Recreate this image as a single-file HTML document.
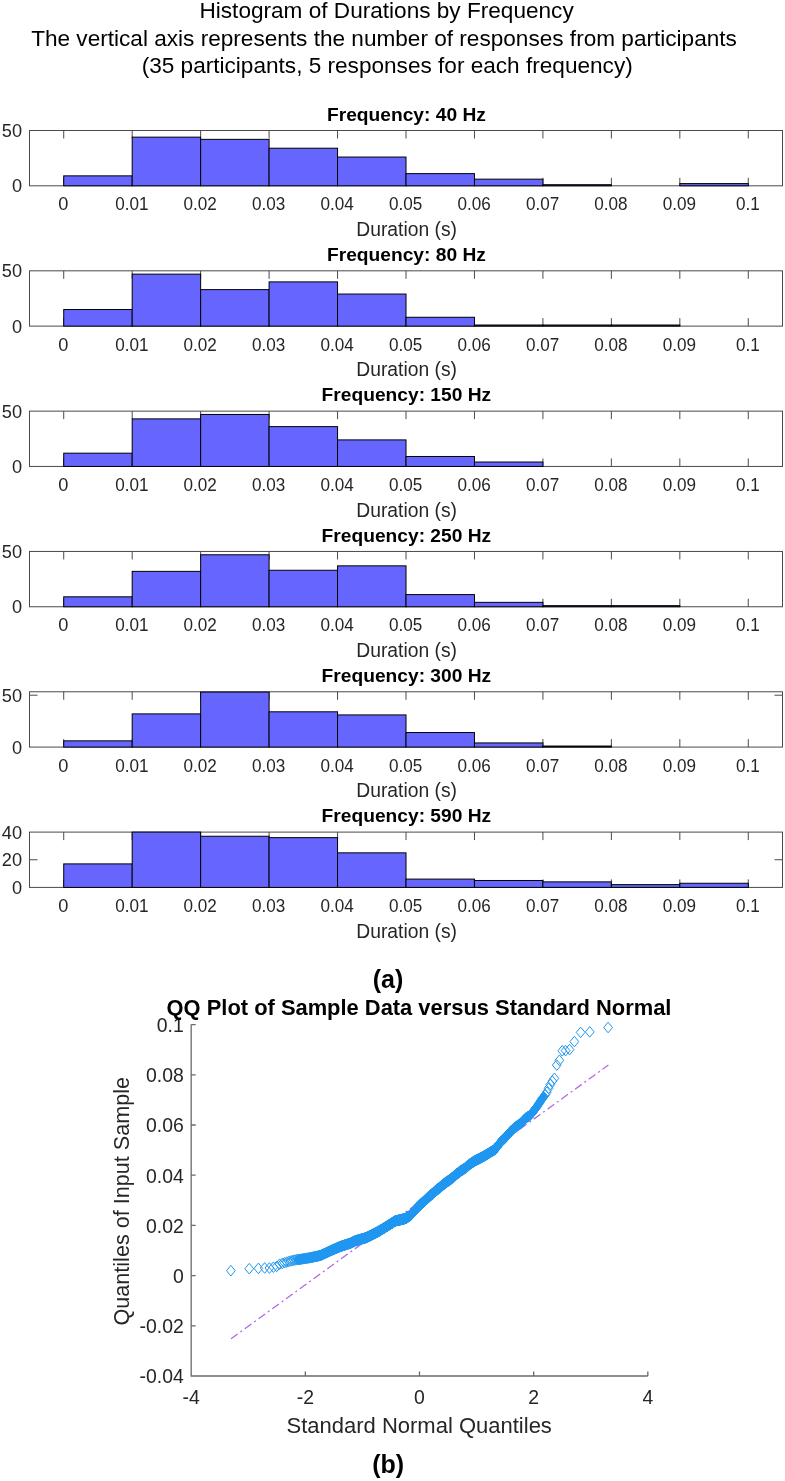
<!DOCTYPE html>
<html><head><meta charset="utf-8"><title>Histogram of Durations by Frequency</title>
<style>
html,body{margin:0;padding:0;background:#fff;}
body{width:785px;height:1481px;overflow:hidden;}
svg{display:block;font-family:"Liberation Sans", sans-serif;will-change:transform;}
</style></head><body>
<svg width="785" height="1481" viewBox="0 0 785 1481">
<rect width="785" height="1481" fill="#fff"/>
<text x="386.6" y="17.9" font-size="22.6" font-weight="400" text-anchor="middle" fill="#000">Histogram of Durations by Frequency</text>
<text x="384" y="45.6" font-size="22.6" font-weight="400" text-anchor="middle" fill="#000">The vertical axis represents the number of responses from participants</text>
<text x="387.2" y="73.3" font-size="22.6" font-weight="400" text-anchor="middle" fill="#000">(35 participants, 5 responses for each frequency)</text>
<g>
<path d="M63.73 185.8V177.8M63.73 130.5V138.5M132.19 185.8V177.8M132.19 130.5V138.5M200.64 185.8V177.8M200.64 130.5V138.5M269.09 185.8V177.8M269.09 130.5V138.5M337.55 185.8V177.8M337.55 130.5V138.5M406.01 185.8V177.8M406.01 130.5V138.5M474.46 185.8V177.8M474.46 130.5V138.5M542.92 185.8V177.8M542.92 130.5V138.5M611.37 185.8V177.8M611.37 130.5V138.5M679.83 185.8V177.8M679.83 130.5V138.5M748.28 185.8V177.8M748.28 130.5V138.5" stroke="#4a4a4a" stroke-width="1" fill="none"/>
<rect x="29.5" y="130.5" width="753" height="55.3" fill="none" stroke="#4a4a4a" stroke-width="1"/>
<g fill="#6666ff" stroke="#000" stroke-width="1"><rect x="63.73" y="175.85" width="68.46" height="9.95"/><rect x="132.19" y="137.14" width="68.45" height="48.66"/><rect x="200.64" y="139.35" width="68.45" height="46.45"/><rect x="269.09" y="148.2" width="68.46" height="37.6"/><rect x="337.55" y="157.04" width="68.46" height="28.76"/><rect x="406.01" y="173.63" width="68.45" height="12.17"/><rect x="474.46" y="179.16" width="68.46" height="6.64"/><rect x="542.92" y="184.69" width="68.45" height="1.11"/><rect x="679.83" y="183.59" width="68.46" height="2.21"/></g>
<text x="63.33" y="210.4" font-size="18.2" font-weight="400" text-anchor="middle" fill="#262626">0</text>
<text x="131.78" y="210.4" font-size="18.2" font-weight="400" text-anchor="middle" fill="#262626" textLength="33.29" lengthAdjust="spacingAndGlyphs">0.01</text>
<text x="200.24" y="210.4" font-size="18.2" font-weight="400" text-anchor="middle" fill="#262626" textLength="33.29" lengthAdjust="spacingAndGlyphs">0.02</text>
<text x="268.69" y="210.4" font-size="18.2" font-weight="400" text-anchor="middle" fill="#262626" textLength="33.29" lengthAdjust="spacingAndGlyphs">0.03</text>
<text x="337.15" y="210.4" font-size="18.2" font-weight="400" text-anchor="middle" fill="#262626" textLength="33.29" lengthAdjust="spacingAndGlyphs">0.04</text>
<text x="405.61" y="210.4" font-size="18.2" font-weight="400" text-anchor="middle" fill="#262626" textLength="33.29" lengthAdjust="spacingAndGlyphs">0.05</text>
<text x="474.06" y="210.4" font-size="18.2" font-weight="400" text-anchor="middle" fill="#262626" textLength="33.29" lengthAdjust="spacingAndGlyphs">0.06</text>
<text x="542.52" y="210.4" font-size="18.2" font-weight="400" text-anchor="middle" fill="#262626" textLength="33.29" lengthAdjust="spacingAndGlyphs">0.07</text>
<text x="610.97" y="210.4" font-size="18.2" font-weight="400" text-anchor="middle" fill="#262626" textLength="33.29" lengthAdjust="spacingAndGlyphs">0.08</text>
<text x="679.43" y="210.4" font-size="18.2" font-weight="400" text-anchor="middle" fill="#262626" textLength="33.29" lengthAdjust="spacingAndGlyphs">0.09</text>
<text x="747.88" y="210.4" font-size="18.2" font-weight="400" text-anchor="middle" fill="#262626" textLength="23.78" lengthAdjust="spacingAndGlyphs">0.1</text>
<text x="22" y="192.3" font-size="18.2" font-weight="400" text-anchor="end" fill="#262626">0</text>
<text x="22" y="137" font-size="18.2" font-weight="400" text-anchor="end" fill="#262626">50</text>
<text x="406.6" y="236.1" font-size="19.3" font-weight="400" text-anchor="middle" fill="#262626">Duration (s)</text>
<text x="406.4" y="120.7" font-size="19.2" font-weight="700" text-anchor="middle" fill="#000">Frequency: 40 Hz</text>
</g>
<g>
<path d="M63.73 326.12V318.12M63.73 270.82V278.82M132.19 326.12V318.12M132.19 270.82V278.82M200.64 326.12V318.12M200.64 270.82V278.82M269.09 326.12V318.12M269.09 270.82V278.82M337.55 326.12V318.12M337.55 270.82V278.82M406.01 326.12V318.12M406.01 270.82V278.82M474.46 326.12V318.12M474.46 270.82V278.82M542.92 326.12V318.12M542.92 270.82V278.82M611.37 326.12V318.12M611.37 270.82V278.82M679.83 326.12V318.12M679.83 270.82V278.82M748.28 326.12V318.12M748.28 270.82V278.82" stroke="#4a4a4a" stroke-width="1" fill="none"/>
<rect x="29.5" y="270.82" width="753" height="55.3" fill="none" stroke="#4a4a4a" stroke-width="1"/>
<g fill="#6666ff" stroke="#000" stroke-width="1"><rect x="63.73" y="309.53" width="68.46" height="16.59"/><rect x="132.19" y="274.14" width="68.45" height="51.98"/><rect x="200.64" y="289.62" width="68.45" height="36.5"/><rect x="269.09" y="281.88" width="68.46" height="44.24"/><rect x="337.55" y="294.05" width="68.46" height="32.07"/><rect x="406.01" y="317.27" width="68.45" height="8.85"/><rect x="474.46" y="325.01" width="68.46" height="1.11"/><rect x="542.92" y="325.01" width="68.45" height="1.11"/><rect x="611.37" y="325.01" width="68.46" height="1.11"/></g>
<text x="63.33" y="350.72" font-size="18.2" font-weight="400" text-anchor="middle" fill="#262626">0</text>
<text x="131.78" y="350.72" font-size="18.2" font-weight="400" text-anchor="middle" fill="#262626" textLength="33.29" lengthAdjust="spacingAndGlyphs">0.01</text>
<text x="200.24" y="350.72" font-size="18.2" font-weight="400" text-anchor="middle" fill="#262626" textLength="33.29" lengthAdjust="spacingAndGlyphs">0.02</text>
<text x="268.69" y="350.72" font-size="18.2" font-weight="400" text-anchor="middle" fill="#262626" textLength="33.29" lengthAdjust="spacingAndGlyphs">0.03</text>
<text x="337.15" y="350.72" font-size="18.2" font-weight="400" text-anchor="middle" fill="#262626" textLength="33.29" lengthAdjust="spacingAndGlyphs">0.04</text>
<text x="405.61" y="350.72" font-size="18.2" font-weight="400" text-anchor="middle" fill="#262626" textLength="33.29" lengthAdjust="spacingAndGlyphs">0.05</text>
<text x="474.06" y="350.72" font-size="18.2" font-weight="400" text-anchor="middle" fill="#262626" textLength="33.29" lengthAdjust="spacingAndGlyphs">0.06</text>
<text x="542.52" y="350.72" font-size="18.2" font-weight="400" text-anchor="middle" fill="#262626" textLength="33.29" lengthAdjust="spacingAndGlyphs">0.07</text>
<text x="610.97" y="350.72" font-size="18.2" font-weight="400" text-anchor="middle" fill="#262626" textLength="33.29" lengthAdjust="spacingAndGlyphs">0.08</text>
<text x="679.43" y="350.72" font-size="18.2" font-weight="400" text-anchor="middle" fill="#262626" textLength="33.29" lengthAdjust="spacingAndGlyphs">0.09</text>
<text x="747.88" y="350.72" font-size="18.2" font-weight="400" text-anchor="middle" fill="#262626" textLength="23.78" lengthAdjust="spacingAndGlyphs">0.1</text>
<text x="22" y="332.62" font-size="18.2" font-weight="400" text-anchor="end" fill="#262626">0</text>
<text x="22" y="277.32" font-size="18.2" font-weight="400" text-anchor="end" fill="#262626">50</text>
<text x="406.6" y="376.42" font-size="19.3" font-weight="400" text-anchor="middle" fill="#262626">Duration (s)</text>
<text x="406.4" y="261.02" font-size="19.2" font-weight="700" text-anchor="middle" fill="#000">Frequency: 80 Hz</text>
</g>
<g>
<path d="M63.73 466.44V458.44M63.73 411.14V419.14M132.19 466.44V458.44M132.19 411.14V419.14M200.64 466.44V458.44M200.64 411.14V419.14M269.09 466.44V458.44M269.09 411.14V419.14M337.55 466.44V458.44M337.55 411.14V419.14M406.01 466.44V458.44M406.01 411.14V419.14M474.46 466.44V458.44M474.46 411.14V419.14M542.92 466.44V458.44M542.92 411.14V419.14M611.37 466.44V458.44M611.37 411.14V419.14M679.83 466.44V458.44M679.83 411.14V419.14M748.28 466.44V458.44M748.28 411.14V419.14" stroke="#4a4a4a" stroke-width="1" fill="none"/>
<rect x="29.5" y="411.14" width="753" height="55.3" fill="none" stroke="#4a4a4a" stroke-width="1"/>
<g fill="#6666ff" stroke="#000" stroke-width="1"><rect x="63.73" y="453.17" width="68.46" height="13.27"/><rect x="132.19" y="418.88" width="68.45" height="47.56"/><rect x="200.64" y="414.46" width="68.45" height="51.98"/><rect x="269.09" y="426.62" width="68.46" height="39.82"/><rect x="337.55" y="439.9" width="68.46" height="26.54"/><rect x="406.01" y="456.49" width="68.45" height="9.95"/><rect x="474.46" y="462.02" width="68.46" height="4.42"/></g>
<text x="63.33" y="491.04" font-size="18.2" font-weight="400" text-anchor="middle" fill="#262626">0</text>
<text x="131.78" y="491.04" font-size="18.2" font-weight="400" text-anchor="middle" fill="#262626" textLength="33.29" lengthAdjust="spacingAndGlyphs">0.01</text>
<text x="200.24" y="491.04" font-size="18.2" font-weight="400" text-anchor="middle" fill="#262626" textLength="33.29" lengthAdjust="spacingAndGlyphs">0.02</text>
<text x="268.69" y="491.04" font-size="18.2" font-weight="400" text-anchor="middle" fill="#262626" textLength="33.29" lengthAdjust="spacingAndGlyphs">0.03</text>
<text x="337.15" y="491.04" font-size="18.2" font-weight="400" text-anchor="middle" fill="#262626" textLength="33.29" lengthAdjust="spacingAndGlyphs">0.04</text>
<text x="405.61" y="491.04" font-size="18.2" font-weight="400" text-anchor="middle" fill="#262626" textLength="33.29" lengthAdjust="spacingAndGlyphs">0.05</text>
<text x="474.06" y="491.04" font-size="18.2" font-weight="400" text-anchor="middle" fill="#262626" textLength="33.29" lengthAdjust="spacingAndGlyphs">0.06</text>
<text x="542.52" y="491.04" font-size="18.2" font-weight="400" text-anchor="middle" fill="#262626" textLength="33.29" lengthAdjust="spacingAndGlyphs">0.07</text>
<text x="610.97" y="491.04" font-size="18.2" font-weight="400" text-anchor="middle" fill="#262626" textLength="33.29" lengthAdjust="spacingAndGlyphs">0.08</text>
<text x="679.43" y="491.04" font-size="18.2" font-weight="400" text-anchor="middle" fill="#262626" textLength="33.29" lengthAdjust="spacingAndGlyphs">0.09</text>
<text x="747.88" y="491.04" font-size="18.2" font-weight="400" text-anchor="middle" fill="#262626" textLength="23.78" lengthAdjust="spacingAndGlyphs">0.1</text>
<text x="22" y="472.94" font-size="18.2" font-weight="400" text-anchor="end" fill="#262626">0</text>
<text x="22" y="417.64" font-size="18.2" font-weight="400" text-anchor="end" fill="#262626">50</text>
<text x="406.6" y="516.74" font-size="19.3" font-weight="400" text-anchor="middle" fill="#262626">Duration (s)</text>
<text x="406.4" y="401.34" font-size="19.2" font-weight="700" text-anchor="middle" fill="#000">Frequency: 150 Hz</text>
</g>
<g>
<path d="M63.73 606.76V598.76M63.73 551.46V559.46M132.19 606.76V598.76M132.19 551.46V559.46M200.64 606.76V598.76M200.64 551.46V559.46M269.09 606.76V598.76M269.09 551.46V559.46M337.55 606.76V598.76M337.55 551.46V559.46M406.01 606.76V598.76M406.01 551.46V559.46M474.46 606.76V598.76M474.46 551.46V559.46M542.92 606.76V598.76M542.92 551.46V559.46M611.37 606.76V598.76M611.37 551.46V559.46M679.83 606.76V598.76M679.83 551.46V559.46M748.28 606.76V598.76M748.28 551.46V559.46" stroke="#4a4a4a" stroke-width="1" fill="none"/>
<rect x="29.5" y="551.46" width="753" height="55.3" fill="none" stroke="#4a4a4a" stroke-width="1"/>
<g fill="#6666ff" stroke="#000" stroke-width="1"><rect x="63.73" y="596.81" width="68.46" height="9.95"/><rect x="132.19" y="571.37" width="68.45" height="35.39"/><rect x="200.64" y="554.78" width="68.45" height="51.98"/><rect x="269.09" y="570.26" width="68.46" height="36.5"/><rect x="337.55" y="565.84" width="68.46" height="40.92"/><rect x="406.01" y="594.59" width="68.45" height="12.17"/><rect x="474.46" y="602.34" width="68.46" height="4.42"/><rect x="542.92" y="605.65" width="68.45" height="1.11"/><rect x="611.37" y="605.65" width="68.46" height="1.11"/></g>
<text x="63.33" y="631.36" font-size="18.2" font-weight="400" text-anchor="middle" fill="#262626">0</text>
<text x="131.78" y="631.36" font-size="18.2" font-weight="400" text-anchor="middle" fill="#262626" textLength="33.29" lengthAdjust="spacingAndGlyphs">0.01</text>
<text x="200.24" y="631.36" font-size="18.2" font-weight="400" text-anchor="middle" fill="#262626" textLength="33.29" lengthAdjust="spacingAndGlyphs">0.02</text>
<text x="268.69" y="631.36" font-size="18.2" font-weight="400" text-anchor="middle" fill="#262626" textLength="33.29" lengthAdjust="spacingAndGlyphs">0.03</text>
<text x="337.15" y="631.36" font-size="18.2" font-weight="400" text-anchor="middle" fill="#262626" textLength="33.29" lengthAdjust="spacingAndGlyphs">0.04</text>
<text x="405.61" y="631.36" font-size="18.2" font-weight="400" text-anchor="middle" fill="#262626" textLength="33.29" lengthAdjust="spacingAndGlyphs">0.05</text>
<text x="474.06" y="631.36" font-size="18.2" font-weight="400" text-anchor="middle" fill="#262626" textLength="33.29" lengthAdjust="spacingAndGlyphs">0.06</text>
<text x="542.52" y="631.36" font-size="18.2" font-weight="400" text-anchor="middle" fill="#262626" textLength="33.29" lengthAdjust="spacingAndGlyphs">0.07</text>
<text x="610.97" y="631.36" font-size="18.2" font-weight="400" text-anchor="middle" fill="#262626" textLength="33.29" lengthAdjust="spacingAndGlyphs">0.08</text>
<text x="679.43" y="631.36" font-size="18.2" font-weight="400" text-anchor="middle" fill="#262626" textLength="33.29" lengthAdjust="spacingAndGlyphs">0.09</text>
<text x="747.88" y="631.36" font-size="18.2" font-weight="400" text-anchor="middle" fill="#262626" textLength="23.78" lengthAdjust="spacingAndGlyphs">0.1</text>
<text x="22" y="613.26" font-size="18.2" font-weight="400" text-anchor="end" fill="#262626">0</text>
<text x="22" y="557.96" font-size="18.2" font-weight="400" text-anchor="end" fill="#262626">50</text>
<text x="406.6" y="657.06" font-size="19.3" font-weight="400" text-anchor="middle" fill="#262626">Duration (s)</text>
<text x="406.4" y="541.66" font-size="19.2" font-weight="700" text-anchor="middle" fill="#000">Frequency: 250 Hz</text>
</g>
<g>
<path d="M63.73 747.08V739.08M63.73 691.78V699.78M132.19 747.08V739.08M132.19 691.78V699.78M200.64 747.08V739.08M200.64 691.78V699.78M269.09 747.08V739.08M269.09 691.78V699.78M337.55 747.08V739.08M337.55 691.78V699.78M406.01 747.08V739.08M406.01 691.78V699.78M474.46 747.08V739.08M474.46 691.78V699.78M542.92 747.08V739.08M542.92 691.78V699.78M611.37 747.08V739.08M611.37 691.78V699.78M679.83 747.08V739.08M679.83 691.78V699.78M748.28 747.08V739.08M748.28 691.78V699.78M29.5 695.2H37.5M782.51 695.2H774.51" stroke="#4a4a4a" stroke-width="1" fill="none"/>
<rect x="29.5" y="691.78" width="753" height="55.3" fill="none" stroke="#4a4a4a" stroke-width="1"/>
<g fill="#6666ff" stroke="#000" stroke-width="1"><rect x="63.73" y="740.85" width="68.46" height="6.23"/><rect x="132.19" y="713.88" width="68.45" height="33.2"/><rect x="200.64" y="692.09" width="68.45" height="54.99"/><rect x="269.09" y="711.8" width="68.46" height="35.28"/><rect x="337.55" y="714.92" width="68.46" height="32.16"/><rect x="406.01" y="732.55" width="68.45" height="14.53"/><rect x="474.46" y="742.93" width="68.46" height="4.15"/><rect x="542.92" y="746.04" width="68.45" height="1.04"/></g>
<text x="63.33" y="771.68" font-size="18.2" font-weight="400" text-anchor="middle" fill="#262626">0</text>
<text x="131.78" y="771.68" font-size="18.2" font-weight="400" text-anchor="middle" fill="#262626" textLength="33.29" lengthAdjust="spacingAndGlyphs">0.01</text>
<text x="200.24" y="771.68" font-size="18.2" font-weight="400" text-anchor="middle" fill="#262626" textLength="33.29" lengthAdjust="spacingAndGlyphs">0.02</text>
<text x="268.69" y="771.68" font-size="18.2" font-weight="400" text-anchor="middle" fill="#262626" textLength="33.29" lengthAdjust="spacingAndGlyphs">0.03</text>
<text x="337.15" y="771.68" font-size="18.2" font-weight="400" text-anchor="middle" fill="#262626" textLength="33.29" lengthAdjust="spacingAndGlyphs">0.04</text>
<text x="405.61" y="771.68" font-size="18.2" font-weight="400" text-anchor="middle" fill="#262626" textLength="33.29" lengthAdjust="spacingAndGlyphs">0.05</text>
<text x="474.06" y="771.68" font-size="18.2" font-weight="400" text-anchor="middle" fill="#262626" textLength="33.29" lengthAdjust="spacingAndGlyphs">0.06</text>
<text x="542.52" y="771.68" font-size="18.2" font-weight="400" text-anchor="middle" fill="#262626" textLength="33.29" lengthAdjust="spacingAndGlyphs">0.07</text>
<text x="610.97" y="771.68" font-size="18.2" font-weight="400" text-anchor="middle" fill="#262626" textLength="33.29" lengthAdjust="spacingAndGlyphs">0.08</text>
<text x="679.43" y="771.68" font-size="18.2" font-weight="400" text-anchor="middle" fill="#262626" textLength="33.29" lengthAdjust="spacingAndGlyphs">0.09</text>
<text x="747.88" y="771.68" font-size="18.2" font-weight="400" text-anchor="middle" fill="#262626" textLength="23.78" lengthAdjust="spacingAndGlyphs">0.1</text>
<text x="22" y="753.58" font-size="18.2" font-weight="400" text-anchor="end" fill="#262626">0</text>
<text x="22" y="701.7" font-size="18.2" font-weight="400" text-anchor="end" fill="#262626">50</text>
<text x="406.6" y="797.38" font-size="19.3" font-weight="400" text-anchor="middle" fill="#262626">Duration (s)</text>
<text x="406.4" y="681.98" font-size="19.2" font-weight="700" text-anchor="middle" fill="#000">Frequency: 300 Hz</text>
</g>
<g>
<path d="M63.73 887.4V879.4M63.73 832.1V840.1M132.19 887.4V879.4M132.19 832.1V840.1M200.64 887.4V879.4M200.64 832.1V840.1M269.09 887.4V879.4M269.09 832.1V840.1M337.55 887.4V879.4M337.55 832.1V840.1M406.01 887.4V879.4M406.01 832.1V840.1M474.46 887.4V879.4M474.46 832.1V840.1M542.92 887.4V879.4M542.92 832.1V840.1M611.37 887.4V879.4M611.37 832.1V840.1M679.83 887.4V879.4M679.83 832.1V840.1M748.28 887.4V879.4M748.28 832.1V840.1M29.5 859.75H37.5M782.51 859.75H774.51" stroke="#4a4a4a" stroke-width="1" fill="none"/>
<rect x="29.5" y="832.1" width="753" height="55.3" fill="none" stroke="#4a4a4a" stroke-width="1"/>
<g fill="#6666ff" stroke="#000" stroke-width="1"><rect x="63.73" y="863.9" width="68.46" height="23.5"/><rect x="132.19" y="832.1" width="68.45" height="55.3"/><rect x="200.64" y="836.25" width="68.45" height="51.15"/><rect x="269.09" y="837.63" width="68.46" height="49.77"/><rect x="337.55" y="852.84" width="68.46" height="34.56"/><rect x="406.01" y="879.1" width="68.45" height="8.29"/><rect x="474.46" y="880.49" width="68.46" height="6.91"/><rect x="542.92" y="881.87" width="68.45" height="5.53"/><rect x="611.37" y="884.63" width="68.46" height="2.76"/><rect x="679.83" y="883.25" width="68.46" height="4.15"/></g>
<text x="63.33" y="912" font-size="18.2" font-weight="400" text-anchor="middle" fill="#262626">0</text>
<text x="131.78" y="912" font-size="18.2" font-weight="400" text-anchor="middle" fill="#262626" textLength="33.29" lengthAdjust="spacingAndGlyphs">0.01</text>
<text x="200.24" y="912" font-size="18.2" font-weight="400" text-anchor="middle" fill="#262626" textLength="33.29" lengthAdjust="spacingAndGlyphs">0.02</text>
<text x="268.69" y="912" font-size="18.2" font-weight="400" text-anchor="middle" fill="#262626" textLength="33.29" lengthAdjust="spacingAndGlyphs">0.03</text>
<text x="337.15" y="912" font-size="18.2" font-weight="400" text-anchor="middle" fill="#262626" textLength="33.29" lengthAdjust="spacingAndGlyphs">0.04</text>
<text x="405.61" y="912" font-size="18.2" font-weight="400" text-anchor="middle" fill="#262626" textLength="33.29" lengthAdjust="spacingAndGlyphs">0.05</text>
<text x="474.06" y="912" font-size="18.2" font-weight="400" text-anchor="middle" fill="#262626" textLength="33.29" lengthAdjust="spacingAndGlyphs">0.06</text>
<text x="542.52" y="912" font-size="18.2" font-weight="400" text-anchor="middle" fill="#262626" textLength="33.29" lengthAdjust="spacingAndGlyphs">0.07</text>
<text x="610.97" y="912" font-size="18.2" font-weight="400" text-anchor="middle" fill="#262626" textLength="33.29" lengthAdjust="spacingAndGlyphs">0.08</text>
<text x="679.43" y="912" font-size="18.2" font-weight="400" text-anchor="middle" fill="#262626" textLength="33.29" lengthAdjust="spacingAndGlyphs">0.09</text>
<text x="747.88" y="912" font-size="18.2" font-weight="400" text-anchor="middle" fill="#262626" textLength="23.78" lengthAdjust="spacingAndGlyphs">0.1</text>
<text x="22" y="893.9" font-size="18.2" font-weight="400" text-anchor="end" fill="#262626">0</text>
<text x="22" y="866.25" font-size="18.2" font-weight="400" text-anchor="end" fill="#262626">20</text>
<text x="22" y="838.6" font-size="18.2" font-weight="400" text-anchor="end" fill="#262626">40</text>
<text x="406.6" y="937.7" font-size="19.3" font-weight="400" text-anchor="middle" fill="#262626">Duration (s)</text>
<text x="406.4" y="822.3" font-size="19.2" font-weight="700" text-anchor="middle" fill="#000">Frequency: 590 Hz</text>
</g>
<text x="388" y="987.8" font-size="25" font-weight="700" text-anchor="middle" fill="#000">(a)</text>
<path d="M191.18 1024.6V1376H647.82M191.18 1376V1371.5M305.34 1376V1371.5M419.5 1376V1371.5M533.66 1376V1371.5M647.82 1376V1371.5M191.18 1376H195.68M191.18 1325.8H195.68M191.18 1275.6H195.68M191.18 1225.4H195.68M191.18 1175.2H195.68M191.18 1125H195.68M191.18 1074.8H195.68M191.18 1024.6H195.68" stroke="#6a6a6a" stroke-width="1.3" fill="none"/>
<line x1="231" y1="1338.7" x2="608.4" y2="1065" stroke="#b266e6" stroke-width="1.25" stroke-dasharray="8.2 3.4 2.0 3.4"/>
<path d="M298.03 1254.3l4.4 5.3l-4.4 5.3l-4.4 -5.3zM299.31 1254.12l4.4 5.3l-4.4 5.3l-4.4 -5.3zM300.53 1253.95l4.4 5.3l-4.4 5.3l-4.4 -5.3zM301.7 1253.76l4.4 5.3l-4.4 5.3l-4.4 -5.3zM302.83 1253.58l4.4 5.3l-4.4 5.3l-4.4 -5.3zM303.91 1253.41l4.4 5.3l-4.4 5.3l-4.4 -5.3zM304.95 1253.24l4.4 5.3l-4.4 5.3l-4.4 -5.3zM305.95 1253.08l4.4 5.3l-4.4 5.3l-4.4 -5.3zM306.92 1252.92l4.4 5.3l-4.4 5.3l-4.4 -5.3zM307.86 1252.77l4.4 5.3l-4.4 5.3l-4.4 -5.3zM308.77 1252.63l4.4 5.3l-4.4 5.3l-4.4 -5.3zM309.65 1252.49l4.4 5.3l-4.4 5.3l-4.4 -5.3zM310.5 1252.33l4.4 5.3l-4.4 5.3l-4.4 -5.3zM311.33 1252.16l4.4 5.3l-4.4 5.3l-4.4 -5.3zM312.14 1251.98l4.4 5.3l-4.4 5.3l-4.4 -5.3zM312.93 1251.81l4.4 5.3l-4.4 5.3l-4.4 -5.3zM313.7 1251.64l4.4 5.3l-4.4 5.3l-4.4 -5.3zM314.45 1251.48l4.4 5.3l-4.4 5.3l-4.4 -5.3zM315.18 1251.32l4.4 5.3l-4.4 5.3l-4.4 -5.3zM315.9 1251.17l4.4 5.3l-4.4 5.3l-4.4 -5.3zM316.6 1251.02l4.4 5.3l-4.4 5.3l-4.4 -5.3zM317.28 1250.87l4.4 5.3l-4.4 5.3l-4.4 -5.3zM317.95 1250.73l4.4 5.3l-4.4 5.3l-4.4 -5.3zM318.61 1250.59l4.4 5.3l-4.4 5.3l-4.4 -5.3zM319.25 1250.45l4.4 5.3l-4.4 5.3l-4.4 -5.3zM319.88 1250.31l4.4 5.3l-4.4 5.3l-4.4 -5.3zM320.5 1250.15l4.4 5.3l-4.4 5.3l-4.4 -5.3zM321.11 1249.87l4.4 5.3l-4.4 5.3l-4.4 -5.3zM321.71 1249.58l4.4 5.3l-4.4 5.3l-4.4 -5.3zM322.29 1249.31l4.4 5.3l-4.4 5.3l-4.4 -5.3zM322.87 1249.04l4.4 5.3l-4.4 5.3l-4.4 -5.3zM323.44 1248.77l4.4 5.3l-4.4 5.3l-4.4 -5.3zM323.99 1248.51l4.4 5.3l-4.4 5.3l-4.4 -5.3zM324.54 1248.25l4.4 5.3l-4.4 5.3l-4.4 -5.3zM325.08 1248l4.4 5.3l-4.4 5.3l-4.4 -5.3zM325.61 1247.75l4.4 5.3l-4.4 5.3l-4.4 -5.3zM326.13 1247.5l4.4 5.3l-4.4 5.3l-4.4 -5.3zM326.65 1247.26l4.4 5.3l-4.4 5.3l-4.4 -5.3zM327.16 1247.02l4.4 5.3l-4.4 5.3l-4.4 -5.3zM327.66 1246.78l4.4 5.3l-4.4 5.3l-4.4 -5.3zM328.15 1246.55l4.4 5.3l-4.4 5.3l-4.4 -5.3zM328.64 1246.32l4.4 5.3l-4.4 5.3l-4.4 -5.3zM329.12 1246.1l4.4 5.3l-4.4 5.3l-4.4 -5.3zM329.59 1245.87l4.4 5.3l-4.4 5.3l-4.4 -5.3zM330.06 1245.65l4.4 5.3l-4.4 5.3l-4.4 -5.3zM330.52 1245.44l4.4 5.3l-4.4 5.3l-4.4 -5.3zM330.98 1245.23l4.4 5.3l-4.4 5.3l-4.4 -5.3zM331.43 1245.04l4.4 5.3l-4.4 5.3l-4.4 -5.3zM331.88 1244.84l4.4 5.3l-4.4 5.3l-4.4 -5.3zM332.32 1244.65l4.4 5.3l-4.4 5.3l-4.4 -5.3zM332.75 1244.46l4.4 5.3l-4.4 5.3l-4.4 -5.3zM333.18 1244.27l4.4 5.3l-4.4 5.3l-4.4 -5.3zM333.61 1244.09l4.4 5.3l-4.4 5.3l-4.4 -5.3zM334.03 1243.9l4.4 5.3l-4.4 5.3l-4.4 -5.3zM334.44 1243.72l4.4 5.3l-4.4 5.3l-4.4 -5.3zM334.85 1243.54l4.4 5.3l-4.4 5.3l-4.4 -5.3zM335.26 1243.37l4.4 5.3l-4.4 5.3l-4.4 -5.3zM335.66 1243.19l4.4 5.3l-4.4 5.3l-4.4 -5.3zM336.06 1243.02l4.4 5.3l-4.4 5.3l-4.4 -5.3zM336.46 1242.84l4.4 5.3l-4.4 5.3l-4.4 -5.3zM336.85 1242.67l4.4 5.3l-4.4 5.3l-4.4 -5.3zM337.24 1242.51l4.4 5.3l-4.4 5.3l-4.4 -5.3zM337.62 1242.34l4.4 5.3l-4.4 5.3l-4.4 -5.3zM338 1242.17l4.4 5.3l-4.4 5.3l-4.4 -5.3zM338.37 1242.01l4.4 5.3l-4.4 5.3l-4.4 -5.3zM338.75 1241.85l4.4 5.3l-4.4 5.3l-4.4 -5.3zM339.12 1241.69l4.4 5.3l-4.4 5.3l-4.4 -5.3zM339.48 1241.53l4.4 5.3l-4.4 5.3l-4.4 -5.3zM339.84 1241.37l4.4 5.3l-4.4 5.3l-4.4 -5.3zM340.2 1241.23l4.4 5.3l-4.4 5.3l-4.4 -5.3zM340.56 1241.11l4.4 5.3l-4.4 5.3l-4.4 -5.3zM340.91 1241l4.4 5.3l-4.4 5.3l-4.4 -5.3zM341.26 1240.88l4.4 5.3l-4.4 5.3l-4.4 -5.3zM341.61 1240.76l4.4 5.3l-4.4 5.3l-4.4 -5.3zM341.95 1240.65l4.4 5.3l-4.4 5.3l-4.4 -5.3zM342.29 1240.54l4.4 5.3l-4.4 5.3l-4.4 -5.3zM342.63 1240.42l4.4 5.3l-4.4 5.3l-4.4 -5.3zM342.97 1240.31l4.4 5.3l-4.4 5.3l-4.4 -5.3zM343.3 1240.2l4.4 5.3l-4.4 5.3l-4.4 -5.3zM343.63 1240.09l4.4 5.3l-4.4 5.3l-4.4 -5.3zM343.96 1239.98l4.4 5.3l-4.4 5.3l-4.4 -5.3zM344.29 1239.87l4.4 5.3l-4.4 5.3l-4.4 -5.3zM344.61 1239.76l4.4 5.3l-4.4 5.3l-4.4 -5.3zM344.93 1239.66l4.4 5.3l-4.4 5.3l-4.4 -5.3zM345.25 1239.55l4.4 5.3l-4.4 5.3l-4.4 -5.3zM345.57 1239.45l4.4 5.3l-4.4 5.3l-4.4 -5.3zM345.88 1239.35l4.4 5.3l-4.4 5.3l-4.4 -5.3zM346.19 1239.26l4.4 5.3l-4.4 5.3l-4.4 -5.3zM346.5 1239.16l4.4 5.3l-4.4 5.3l-4.4 -5.3zM346.81 1239.06l4.4 5.3l-4.4 5.3l-4.4 -5.3zM347.12 1238.97l4.4 5.3l-4.4 5.3l-4.4 -5.3zM347.42 1238.87l4.4 5.3l-4.4 5.3l-4.4 -5.3zM347.72 1238.78l4.4 5.3l-4.4 5.3l-4.4 -5.3zM348.02 1238.68l4.4 5.3l-4.4 5.3l-4.4 -5.3zM348.32 1238.59l4.4 5.3l-4.4 5.3l-4.4 -5.3zM348.61 1238.5l4.4 5.3l-4.4 5.3l-4.4 -5.3zM348.91 1238.41l4.4 5.3l-4.4 5.3l-4.4 -5.3zM349.2 1238.31l4.4 5.3l-4.4 5.3l-4.4 -5.3zM349.49 1238.22l4.4 5.3l-4.4 5.3l-4.4 -5.3zM349.78 1238.13l4.4 5.3l-4.4 5.3l-4.4 -5.3zM350.06 1238.04l4.4 5.3l-4.4 5.3l-4.4 -5.3zM350.35 1237.93l4.4 5.3l-4.4 5.3l-4.4 -5.3zM350.63 1237.79l4.4 5.3l-4.4 5.3l-4.4 -5.3zM350.91 1237.65l4.4 5.3l-4.4 5.3l-4.4 -5.3zM351.19 1237.51l4.4 5.3l-4.4 5.3l-4.4 -5.3zM351.47 1237.38l4.4 5.3l-4.4 5.3l-4.4 -5.3zM351.75 1237.24l4.4 5.3l-4.4 5.3l-4.4 -5.3zM352.02 1237.11l4.4 5.3l-4.4 5.3l-4.4 -5.3zM352.3 1236.97l4.4 5.3l-4.4 5.3l-4.4 -5.3zM352.57 1236.84l4.4 5.3l-4.4 5.3l-4.4 -5.3zM352.84 1236.71l4.4 5.3l-4.4 5.3l-4.4 -5.3zM353.11 1236.58l4.4 5.3l-4.4 5.3l-4.4 -5.3zM353.37 1236.44l4.4 5.3l-4.4 5.3l-4.4 -5.3zM353.64 1236.31l4.4 5.3l-4.4 5.3l-4.4 -5.3zM353.9 1236.18l4.4 5.3l-4.4 5.3l-4.4 -5.3zM354.17 1236.06l4.4 5.3l-4.4 5.3l-4.4 -5.3zM354.43 1235.93l4.4 5.3l-4.4 5.3l-4.4 -5.3zM354.69 1235.8l4.4 5.3l-4.4 5.3l-4.4 -5.3zM354.95 1235.67l4.4 5.3l-4.4 5.3l-4.4 -5.3zM355.21 1235.55l4.4 5.3l-4.4 5.3l-4.4 -5.3zM355.46 1235.45l4.4 5.3l-4.4 5.3l-4.4 -5.3zM355.72 1235.38l4.4 5.3l-4.4 5.3l-4.4 -5.3zM355.97 1235.3l4.4 5.3l-4.4 5.3l-4.4 -5.3zM356.22 1235.23l4.4 5.3l-4.4 5.3l-4.4 -5.3zM356.47 1235.15l4.4 5.3l-4.4 5.3l-4.4 -5.3zM356.72 1235.08l4.4 5.3l-4.4 5.3l-4.4 -5.3zM356.97 1235.01l4.4 5.3l-4.4 5.3l-4.4 -5.3zM357.22 1234.93l4.4 5.3l-4.4 5.3l-4.4 -5.3zM357.47 1234.86l4.4 5.3l-4.4 5.3l-4.4 -5.3zM357.71 1234.79l4.4 5.3l-4.4 5.3l-4.4 -5.3zM357.96 1234.72l4.4 5.3l-4.4 5.3l-4.4 -5.3zM358.2 1234.65l4.4 5.3l-4.4 5.3l-4.4 -5.3zM358.44 1234.58l4.4 5.3l-4.4 5.3l-4.4 -5.3zM358.68 1234.5l4.4 5.3l-4.4 5.3l-4.4 -5.3zM358.92 1234.43l4.4 5.3l-4.4 5.3l-4.4 -5.3zM359.16 1234.36l4.4 5.3l-4.4 5.3l-4.4 -5.3zM359.4 1234.29l4.4 5.3l-4.4 5.3l-4.4 -5.3zM359.64 1234.22l4.4 5.3l-4.4 5.3l-4.4 -5.3zM359.87 1234.16l4.4 5.3l-4.4 5.3l-4.4 -5.3zM360.11 1234.09l4.4 5.3l-4.4 5.3l-4.4 -5.3zM360.34 1234.02l4.4 5.3l-4.4 5.3l-4.4 -5.3zM360.57 1233.95l4.4 5.3l-4.4 5.3l-4.4 -5.3zM360.8 1233.89l4.4 5.3l-4.4 5.3l-4.4 -5.3zM361.04 1233.83l4.4 5.3l-4.4 5.3l-4.4 -5.3zM361.27 1233.76l4.4 5.3l-4.4 5.3l-4.4 -5.3zM361.49 1233.7l4.4 5.3l-4.4 5.3l-4.4 -5.3zM361.72 1233.64l4.4 5.3l-4.4 5.3l-4.4 -5.3zM361.95 1233.57l4.4 5.3l-4.4 5.3l-4.4 -5.3zM362.18 1233.51l4.4 5.3l-4.4 5.3l-4.4 -5.3zM362.4 1233.45l4.4 5.3l-4.4 5.3l-4.4 -5.3zM362.62 1233.39l4.4 5.3l-4.4 5.3l-4.4 -5.3zM362.85 1233.33l4.4 5.3l-4.4 5.3l-4.4 -5.3zM363.07 1233.27l4.4 5.3l-4.4 5.3l-4.4 -5.3zM363.29 1233.21l4.4 5.3l-4.4 5.3l-4.4 -5.3zM363.51 1233.15l4.4 5.3l-4.4 5.3l-4.4 -5.3zM363.73 1233.09l4.4 5.3l-4.4 5.3l-4.4 -5.3zM363.95 1233.02l4.4 5.3l-4.4 5.3l-4.4 -5.3zM364.17 1232.96l4.4 5.3l-4.4 5.3l-4.4 -5.3zM364.39 1232.91l4.4 5.3l-4.4 5.3l-4.4 -5.3zM364.61 1232.85l4.4 5.3l-4.4 5.3l-4.4 -5.3zM364.82 1232.79l4.4 5.3l-4.4 5.3l-4.4 -5.3zM365.04 1232.73l4.4 5.3l-4.4 5.3l-4.4 -5.3zM365.25 1232.67l4.4 5.3l-4.4 5.3l-4.4 -5.3zM365.46 1232.61l4.4 5.3l-4.4 5.3l-4.4 -5.3zM365.68 1232.52l4.4 5.3l-4.4 5.3l-4.4 -5.3zM365.89 1232.42l4.4 5.3l-4.4 5.3l-4.4 -5.3zM366.1 1232.32l4.4 5.3l-4.4 5.3l-4.4 -5.3zM366.31 1232.22l4.4 5.3l-4.4 5.3l-4.4 -5.3zM366.52 1232.12l4.4 5.3l-4.4 5.3l-4.4 -5.3zM366.73 1232.02l4.4 5.3l-4.4 5.3l-4.4 -5.3zM366.94 1231.92l4.4 5.3l-4.4 5.3l-4.4 -5.3zM367.15 1231.82l4.4 5.3l-4.4 5.3l-4.4 -5.3zM367.35 1231.73l4.4 5.3l-4.4 5.3l-4.4 -5.3zM367.56 1231.63l4.4 5.3l-4.4 5.3l-4.4 -5.3zM367.77 1231.53l4.4 5.3l-4.4 5.3l-4.4 -5.3zM367.97 1231.44l4.4 5.3l-4.4 5.3l-4.4 -5.3zM368.18 1231.34l4.4 5.3l-4.4 5.3l-4.4 -5.3zM368.38 1231.24l4.4 5.3l-4.4 5.3l-4.4 -5.3zM368.58 1231.15l4.4 5.3l-4.4 5.3l-4.4 -5.3zM368.79 1231.05l4.4 5.3l-4.4 5.3l-4.4 -5.3zM368.99 1230.96l4.4 5.3l-4.4 5.3l-4.4 -5.3zM369.19 1230.86l4.4 5.3l-4.4 5.3l-4.4 -5.3zM369.39 1230.77l4.4 5.3l-4.4 5.3l-4.4 -5.3zM369.59 1230.68l4.4 5.3l-4.4 5.3l-4.4 -5.3zM369.79 1230.58l4.4 5.3l-4.4 5.3l-4.4 -5.3zM369.99 1230.49l4.4 5.3l-4.4 5.3l-4.4 -5.3zM370.19 1230.39l4.4 5.3l-4.4 5.3l-4.4 -5.3zM370.38 1230.3l4.4 5.3l-4.4 5.3l-4.4 -5.3zM370.58 1230.21l4.4 5.3l-4.4 5.3l-4.4 -5.3zM370.78 1230.11l4.4 5.3l-4.4 5.3l-4.4 -5.3zM370.97 1230.01l4.4 5.3l-4.4 5.3l-4.4 -5.3zM371.17 1229.91l4.4 5.3l-4.4 5.3l-4.4 -5.3zM371.36 1229.81l4.4 5.3l-4.4 5.3l-4.4 -5.3zM371.56 1229.71l4.4 5.3l-4.4 5.3l-4.4 -5.3zM371.75 1229.61l4.4 5.3l-4.4 5.3l-4.4 -5.3zM371.94 1229.51l4.4 5.3l-4.4 5.3l-4.4 -5.3zM372.14 1229.42l4.4 5.3l-4.4 5.3l-4.4 -5.3zM372.33 1229.32l4.4 5.3l-4.4 5.3l-4.4 -5.3zM372.52 1229.22l4.4 5.3l-4.4 5.3l-4.4 -5.3zM372.71 1229.12l4.4 5.3l-4.4 5.3l-4.4 -5.3zM372.9 1229.03l4.4 5.3l-4.4 5.3l-4.4 -5.3zM373.09 1228.93l4.4 5.3l-4.4 5.3l-4.4 -5.3zM373.28 1228.83l4.4 5.3l-4.4 5.3l-4.4 -5.3zM373.47 1228.74l4.4 5.3l-4.4 5.3l-4.4 -5.3zM373.66 1228.64l4.4 5.3l-4.4 5.3l-4.4 -5.3zM373.85 1228.55l4.4 5.3l-4.4 5.3l-4.4 -5.3zM374.03 1228.45l4.4 5.3l-4.4 5.3l-4.4 -5.3zM374.22 1228.35l4.4 5.3l-4.4 5.3l-4.4 -5.3zM374.41 1228.26l4.4 5.3l-4.4 5.3l-4.4 -5.3zM374.59 1228.16l4.4 5.3l-4.4 5.3l-4.4 -5.3zM374.78 1228.07l4.4 5.3l-4.4 5.3l-4.4 -5.3zM374.96 1227.98l4.4 5.3l-4.4 5.3l-4.4 -5.3zM375.15 1227.88l4.4 5.3l-4.4 5.3l-4.4 -5.3zM375.33 1227.79l4.4 5.3l-4.4 5.3l-4.4 -5.3zM375.51 1227.69l4.4 5.3l-4.4 5.3l-4.4 -5.3zM375.7 1227.6l4.4 5.3l-4.4 5.3l-4.4 -5.3zM375.88 1227.5l4.4 5.3l-4.4 5.3l-4.4 -5.3zM376.06 1227.4l4.4 5.3l-4.4 5.3l-4.4 -5.3zM376.24 1227.3l4.4 5.3l-4.4 5.3l-4.4 -5.3zM376.43 1227.19l4.4 5.3l-4.4 5.3l-4.4 -5.3zM376.61 1227.09l4.4 5.3l-4.4 5.3l-4.4 -5.3zM376.79 1226.99l4.4 5.3l-4.4 5.3l-4.4 -5.3zM376.97 1226.89l4.4 5.3l-4.4 5.3l-4.4 -5.3zM377.15 1226.79l4.4 5.3l-4.4 5.3l-4.4 -5.3zM377.33 1226.69l4.4 5.3l-4.4 5.3l-4.4 -5.3zM377.51 1226.59l4.4 5.3l-4.4 5.3l-4.4 -5.3zM377.68 1226.49l4.4 5.3l-4.4 5.3l-4.4 -5.3zM377.86 1226.39l4.4 5.3l-4.4 5.3l-4.4 -5.3zM378.04 1226.29l4.4 5.3l-4.4 5.3l-4.4 -5.3zM378.22 1226.2l4.4 5.3l-4.4 5.3l-4.4 -5.3zM378.39 1226.1l4.4 5.3l-4.4 5.3l-4.4 -5.3zM378.57 1226l4.4 5.3l-4.4 5.3l-4.4 -5.3zM378.75 1225.9l4.4 5.3l-4.4 5.3l-4.4 -5.3zM378.92 1225.8l4.4 5.3l-4.4 5.3l-4.4 -5.3zM379.1 1225.7l4.4 5.3l-4.4 5.3l-4.4 -5.3zM379.27 1225.61l4.4 5.3l-4.4 5.3l-4.4 -5.3zM379.45 1225.51l4.4 5.3l-4.4 5.3l-4.4 -5.3zM379.62 1225.41l4.4 5.3l-4.4 5.3l-4.4 -5.3zM379.79 1225.31l4.4 5.3l-4.4 5.3l-4.4 -5.3zM379.97 1225.22l4.4 5.3l-4.4 5.3l-4.4 -5.3zM380.14 1225.11l4.4 5.3l-4.4 5.3l-4.4 -5.3zM380.31 1225.01l4.4 5.3l-4.4 5.3l-4.4 -5.3zM380.49 1224.9l4.4 5.3l-4.4 5.3l-4.4 -5.3zM380.66 1224.8l4.4 5.3l-4.4 5.3l-4.4 -5.3zM380.83 1224.7l4.4 5.3l-4.4 5.3l-4.4 -5.3zM381 1224.59l4.4 5.3l-4.4 5.3l-4.4 -5.3zM381.17 1224.49l4.4 5.3l-4.4 5.3l-4.4 -5.3zM381.34 1224.38l4.4 5.3l-4.4 5.3l-4.4 -5.3zM381.51 1224.28l4.4 5.3l-4.4 5.3l-4.4 -5.3zM381.68 1224.18l4.4 5.3l-4.4 5.3l-4.4 -5.3zM381.85 1224.07l4.4 5.3l-4.4 5.3l-4.4 -5.3zM382.02 1223.97l4.4 5.3l-4.4 5.3l-4.4 -5.3zM382.19 1223.87l4.4 5.3l-4.4 5.3l-4.4 -5.3zM382.36 1223.77l4.4 5.3l-4.4 5.3l-4.4 -5.3zM382.53 1223.66l4.4 5.3l-4.4 5.3l-4.4 -5.3zM382.69 1223.56l4.4 5.3l-4.4 5.3l-4.4 -5.3zM382.86 1223.46l4.4 5.3l-4.4 5.3l-4.4 -5.3zM383.03 1223.36l4.4 5.3l-4.4 5.3l-4.4 -5.3zM383.2 1223.26l4.4 5.3l-4.4 5.3l-4.4 -5.3zM383.36 1223.16l4.4 5.3l-4.4 5.3l-4.4 -5.3zM383.53 1223.06l4.4 5.3l-4.4 5.3l-4.4 -5.3zM383.69 1222.95l4.4 5.3l-4.4 5.3l-4.4 -5.3zM383.86 1222.85l4.4 5.3l-4.4 5.3l-4.4 -5.3zM384.03 1222.75l4.4 5.3l-4.4 5.3l-4.4 -5.3zM384.19 1222.65l4.4 5.3l-4.4 5.3l-4.4 -5.3zM384.36 1222.55l4.4 5.3l-4.4 5.3l-4.4 -5.3zM384.52 1222.45l4.4 5.3l-4.4 5.3l-4.4 -5.3zM384.68 1222.35l4.4 5.3l-4.4 5.3l-4.4 -5.3zM384.85 1222.25l4.4 5.3l-4.4 5.3l-4.4 -5.3zM385.01 1222.15l4.4 5.3l-4.4 5.3l-4.4 -5.3zM385.18 1222.05l4.4 5.3l-4.4 5.3l-4.4 -5.3zM385.34 1221.95l4.4 5.3l-4.4 5.3l-4.4 -5.3zM385.5 1221.85l4.4 5.3l-4.4 5.3l-4.4 -5.3zM385.66 1221.75l4.4 5.3l-4.4 5.3l-4.4 -5.3zM385.83 1221.64l4.4 5.3l-4.4 5.3l-4.4 -5.3zM385.99 1221.54l4.4 5.3l-4.4 5.3l-4.4 -5.3zM386.15 1221.44l4.4 5.3l-4.4 5.3l-4.4 -5.3zM386.31 1221.34l4.4 5.3l-4.4 5.3l-4.4 -5.3zM386.47 1221.24l4.4 5.3l-4.4 5.3l-4.4 -5.3zM386.63 1221.14l4.4 5.3l-4.4 5.3l-4.4 -5.3zM386.8 1221.04l4.4 5.3l-4.4 5.3l-4.4 -5.3zM386.96 1220.94l4.4 5.3l-4.4 5.3l-4.4 -5.3zM387.12 1220.84l4.4 5.3l-4.4 5.3l-4.4 -5.3zM387.28 1220.73l4.4 5.3l-4.4 5.3l-4.4 -5.3zM387.44 1220.63l4.4 5.3l-4.4 5.3l-4.4 -5.3zM387.59 1220.53l4.4 5.3l-4.4 5.3l-4.4 -5.3zM387.75 1220.43l4.4 5.3l-4.4 5.3l-4.4 -5.3zM387.91 1220.34l4.4 5.3l-4.4 5.3l-4.4 -5.3zM388.07 1220.24l4.4 5.3l-4.4 5.3l-4.4 -5.3zM388.23 1220.14l4.4 5.3l-4.4 5.3l-4.4 -5.3zM388.39 1220.04l4.4 5.3l-4.4 5.3l-4.4 -5.3zM388.55 1219.94l4.4 5.3l-4.4 5.3l-4.4 -5.3zM388.7 1219.84l4.4 5.3l-4.4 5.3l-4.4 -5.3zM388.86 1219.74l4.4 5.3l-4.4 5.3l-4.4 -5.3zM389.02 1219.64l4.4 5.3l-4.4 5.3l-4.4 -5.3zM389.18 1219.54l4.4 5.3l-4.4 5.3l-4.4 -5.3zM389.33 1219.44l4.4 5.3l-4.4 5.3l-4.4 -5.3zM389.49 1219.35l4.4 5.3l-4.4 5.3l-4.4 -5.3zM389.65 1219.25l4.4 5.3l-4.4 5.3l-4.4 -5.3zM389.8 1219.15l4.4 5.3l-4.4 5.3l-4.4 -5.3zM389.96 1219.05l4.4 5.3l-4.4 5.3l-4.4 -5.3zM390.11 1218.95l4.4 5.3l-4.4 5.3l-4.4 -5.3zM390.27 1218.86l4.4 5.3l-4.4 5.3l-4.4 -5.3zM390.42 1218.76l4.4 5.3l-4.4 5.3l-4.4 -5.3zM390.58 1218.65l4.4 5.3l-4.4 5.3l-4.4 -5.3zM390.73 1218.55l4.4 5.3l-4.4 5.3l-4.4 -5.3zM390.89 1218.45l4.4 5.3l-4.4 5.3l-4.4 -5.3zM391.04 1218.35l4.4 5.3l-4.4 5.3l-4.4 -5.3zM391.2 1218.25l4.4 5.3l-4.4 5.3l-4.4 -5.3zM391.35 1218.16l4.4 5.3l-4.4 5.3l-4.4 -5.3zM391.5 1218.06l4.4 5.3l-4.4 5.3l-4.4 -5.3zM391.66 1217.96l4.4 5.3l-4.4 5.3l-4.4 -5.3zM391.81 1217.86l4.4 5.3l-4.4 5.3l-4.4 -5.3zM391.96 1217.76l4.4 5.3l-4.4 5.3l-4.4 -5.3zM392.12 1217.66l4.4 5.3l-4.4 5.3l-4.4 -5.3zM392.27 1217.56l4.4 5.3l-4.4 5.3l-4.4 -5.3zM392.42 1217.46l4.4 5.3l-4.4 5.3l-4.4 -5.3zM392.58 1217.36l4.4 5.3l-4.4 5.3l-4.4 -5.3zM392.73 1217.26l4.4 5.3l-4.4 5.3l-4.4 -5.3zM392.88 1217.17l4.4 5.3l-4.4 5.3l-4.4 -5.3zM393.03 1217.07l4.4 5.3l-4.4 5.3l-4.4 -5.3zM393.18 1216.97l4.4 5.3l-4.4 5.3l-4.4 -5.3zM393.33 1216.87l4.4 5.3l-4.4 5.3l-4.4 -5.3zM393.49 1216.77l4.4 5.3l-4.4 5.3l-4.4 -5.3zM393.64 1216.68l4.4 5.3l-4.4 5.3l-4.4 -5.3zM393.79 1216.58l4.4 5.3l-4.4 5.3l-4.4 -5.3zM393.94 1216.48l4.4 5.3l-4.4 5.3l-4.4 -5.3zM394.09 1216.38l4.4 5.3l-4.4 5.3l-4.4 -5.3zM394.24 1216.29l4.4 5.3l-4.4 5.3l-4.4 -5.3zM394.39 1216.19l4.4 5.3l-4.4 5.3l-4.4 -5.3zM394.54 1216.09l4.4 5.3l-4.4 5.3l-4.4 -5.3zM394.69 1215.99l4.4 5.3l-4.4 5.3l-4.4 -5.3zM394.84 1215.9l4.4 5.3l-4.4 5.3l-4.4 -5.3zM394.99 1215.8l4.4 5.3l-4.4 5.3l-4.4 -5.3zM395.14 1215.7l4.4 5.3l-4.4 5.3l-4.4 -5.3zM395.29 1215.61l4.4 5.3l-4.4 5.3l-4.4 -5.3zM395.44 1215.57l4.4 5.3l-4.4 5.3l-4.4 -5.3zM395.59 1215.54l4.4 5.3l-4.4 5.3l-4.4 -5.3zM395.73 1215.51l4.4 5.3l-4.4 5.3l-4.4 -5.3zM395.88 1215.47l4.4 5.3l-4.4 5.3l-4.4 -5.3zM396.03 1215.44l4.4 5.3l-4.4 5.3l-4.4 -5.3zM396.18 1215.41l4.4 5.3l-4.4 5.3l-4.4 -5.3zM396.33 1215.38l4.4 5.3l-4.4 5.3l-4.4 -5.3zM396.47 1215.35l4.4 5.3l-4.4 5.3l-4.4 -5.3zM396.62 1215.31l4.4 5.3l-4.4 5.3l-4.4 -5.3zM396.77 1215.28l4.4 5.3l-4.4 5.3l-4.4 -5.3zM396.92 1215.25l4.4 5.3l-4.4 5.3l-4.4 -5.3zM397.06 1215.22l4.4 5.3l-4.4 5.3l-4.4 -5.3zM397.21 1215.19l4.4 5.3l-4.4 5.3l-4.4 -5.3zM397.36 1215.16l4.4 5.3l-4.4 5.3l-4.4 -5.3zM397.51 1215.12l4.4 5.3l-4.4 5.3l-4.4 -5.3zM397.65 1215.09l4.4 5.3l-4.4 5.3l-4.4 -5.3zM397.8 1215.06l4.4 5.3l-4.4 5.3l-4.4 -5.3zM397.95 1215.03l4.4 5.3l-4.4 5.3l-4.4 -5.3zM398.09 1215l4.4 5.3l-4.4 5.3l-4.4 -5.3zM398.24 1214.97l4.4 5.3l-4.4 5.3l-4.4 -5.3zM398.38 1214.93l4.4 5.3l-4.4 5.3l-4.4 -5.3zM398.53 1214.9l4.4 5.3l-4.4 5.3l-4.4 -5.3zM398.68 1214.87l4.4 5.3l-4.4 5.3l-4.4 -5.3zM398.82 1214.84l4.4 5.3l-4.4 5.3l-4.4 -5.3zM398.97 1214.81l4.4 5.3l-4.4 5.3l-4.4 -5.3zM399.11 1214.78l4.4 5.3l-4.4 5.3l-4.4 -5.3zM399.26 1214.75l4.4 5.3l-4.4 5.3l-4.4 -5.3zM399.4 1214.72l4.4 5.3l-4.4 5.3l-4.4 -5.3zM399.55 1214.68l4.4 5.3l-4.4 5.3l-4.4 -5.3zM399.69 1214.65l4.4 5.3l-4.4 5.3l-4.4 -5.3zM399.84 1214.62l4.4 5.3l-4.4 5.3l-4.4 -5.3zM399.98 1214.59l4.4 5.3l-4.4 5.3l-4.4 -5.3zM400.13 1214.56l4.4 5.3l-4.4 5.3l-4.4 -5.3zM400.27 1214.53l4.4 5.3l-4.4 5.3l-4.4 -5.3zM400.41 1214.5l4.4 5.3l-4.4 5.3l-4.4 -5.3zM400.56 1214.46l4.4 5.3l-4.4 5.3l-4.4 -5.3zM400.7 1214.42l4.4 5.3l-4.4 5.3l-4.4 -5.3zM400.85 1214.39l4.4 5.3l-4.4 5.3l-4.4 -5.3zM400.99 1214.35l4.4 5.3l-4.4 5.3l-4.4 -5.3zM401.13 1214.31l4.4 5.3l-4.4 5.3l-4.4 -5.3zM401.28 1214.28l4.4 5.3l-4.4 5.3l-4.4 -5.3zM401.42 1214.24l4.4 5.3l-4.4 5.3l-4.4 -5.3zM401.56 1214.2l4.4 5.3l-4.4 5.3l-4.4 -5.3zM401.71 1214.17l4.4 5.3l-4.4 5.3l-4.4 -5.3zM401.85 1214.13l4.4 5.3l-4.4 5.3l-4.4 -5.3zM401.99 1214.09l4.4 5.3l-4.4 5.3l-4.4 -5.3zM402.13 1214.06l4.4 5.3l-4.4 5.3l-4.4 -5.3zM402.28 1214.02l4.4 5.3l-4.4 5.3l-4.4 -5.3zM402.42 1213.99l4.4 5.3l-4.4 5.3l-4.4 -5.3zM402.56 1213.95l4.4 5.3l-4.4 5.3l-4.4 -5.3zM402.7 1213.91l4.4 5.3l-4.4 5.3l-4.4 -5.3zM402.85 1213.88l4.4 5.3l-4.4 5.3l-4.4 -5.3zM402.99 1213.84l4.4 5.3l-4.4 5.3l-4.4 -5.3zM403.13 1213.8l4.4 5.3l-4.4 5.3l-4.4 -5.3zM403.27 1213.77l4.4 5.3l-4.4 5.3l-4.4 -5.3zM403.41 1213.73l4.4 5.3l-4.4 5.3l-4.4 -5.3zM403.56 1213.7l4.4 5.3l-4.4 5.3l-4.4 -5.3zM403.7 1213.66l4.4 5.3l-4.4 5.3l-4.4 -5.3zM403.84 1213.62l4.4 5.3l-4.4 5.3l-4.4 -5.3zM403.98 1213.59l4.4 5.3l-4.4 5.3l-4.4 -5.3zM404.12 1213.55l4.4 5.3l-4.4 5.3l-4.4 -5.3zM404.26 1213.52l4.4 5.3l-4.4 5.3l-4.4 -5.3zM404.4 1213.48l4.4 5.3l-4.4 5.3l-4.4 -5.3zM404.55 1213.44l4.4 5.3l-4.4 5.3l-4.4 -5.3zM404.69 1213.41l4.4 5.3l-4.4 5.3l-4.4 -5.3zM404.83 1213.37l4.4 5.3l-4.4 5.3l-4.4 -5.3zM404.97 1213.34l4.4 5.3l-4.4 5.3l-4.4 -5.3zM405.11 1213.3l4.4 5.3l-4.4 5.3l-4.4 -5.3zM405.25 1213.26l4.4 5.3l-4.4 5.3l-4.4 -5.3zM405.39 1213.23l4.4 5.3l-4.4 5.3l-4.4 -5.3zM405.53 1213.18l4.4 5.3l-4.4 5.3l-4.4 -5.3zM405.67 1213.09l4.4 5.3l-4.4 5.3l-4.4 -5.3zM405.81 1213l4.4 5.3l-4.4 5.3l-4.4 -5.3zM405.95 1212.91l4.4 5.3l-4.4 5.3l-4.4 -5.3zM406.09 1212.82l4.4 5.3l-4.4 5.3l-4.4 -5.3zM406.23 1212.73l4.4 5.3l-4.4 5.3l-4.4 -5.3zM406.37 1212.64l4.4 5.3l-4.4 5.3l-4.4 -5.3zM406.51 1212.55l4.4 5.3l-4.4 5.3l-4.4 -5.3zM406.65 1212.45l4.4 5.3l-4.4 5.3l-4.4 -5.3zM406.79 1212.36l4.4 5.3l-4.4 5.3l-4.4 -5.3zM406.93 1212.27l4.4 5.3l-4.4 5.3l-4.4 -5.3zM407.07 1212.18l4.4 5.3l-4.4 5.3l-4.4 -5.3zM407.21 1212.09l4.4 5.3l-4.4 5.3l-4.4 -5.3zM407.35 1212l4.4 5.3l-4.4 5.3l-4.4 -5.3zM407.49 1211.91l4.4 5.3l-4.4 5.3l-4.4 -5.3zM407.63 1211.82l4.4 5.3l-4.4 5.3l-4.4 -5.3zM407.77 1211.73l4.4 5.3l-4.4 5.3l-4.4 -5.3zM407.91 1211.64l4.4 5.3l-4.4 5.3l-4.4 -5.3zM408.05 1211.55l4.4 5.3l-4.4 5.3l-4.4 -5.3zM408.18 1211.46l4.4 5.3l-4.4 5.3l-4.4 -5.3zM408.32 1211.37l4.4 5.3l-4.4 5.3l-4.4 -5.3zM408.46 1211.28l4.4 5.3l-4.4 5.3l-4.4 -5.3zM408.6 1211.19l4.4 5.3l-4.4 5.3l-4.4 -5.3zM408.74 1211.1l4.4 5.3l-4.4 5.3l-4.4 -5.3zM408.88 1211.01l4.4 5.3l-4.4 5.3l-4.4 -5.3zM409.02 1210.92l4.4 5.3l-4.4 5.3l-4.4 -5.3zM409.16 1210.83l4.4 5.3l-4.4 5.3l-4.4 -5.3zM409.29 1210.74l4.4 5.3l-4.4 5.3l-4.4 -5.3zM409.43 1210.66l4.4 5.3l-4.4 5.3l-4.4 -5.3zM409.57 1210.57l4.4 5.3l-4.4 5.3l-4.4 -5.3zM409.71 1210.48l4.4 5.3l-4.4 5.3l-4.4 -5.3zM409.85 1210.39l4.4 5.3l-4.4 5.3l-4.4 -5.3zM409.99 1210.3l4.4 5.3l-4.4 5.3l-4.4 -5.3zM410.12 1210.21l4.4 5.3l-4.4 5.3l-4.4 -5.3zM410.26 1210.12l4.4 5.3l-4.4 5.3l-4.4 -5.3zM410.4 1210.03l4.4 5.3l-4.4 5.3l-4.4 -5.3zM410.54 1209.94l4.4 5.3l-4.4 5.3l-4.4 -5.3zM410.68 1209.81l4.4 5.3l-4.4 5.3l-4.4 -5.3zM410.81 1209.65l4.4 5.3l-4.4 5.3l-4.4 -5.3zM410.95 1209.5l4.4 5.3l-4.4 5.3l-4.4 -5.3zM411.09 1209.34l4.4 5.3l-4.4 5.3l-4.4 -5.3zM411.23 1209.18l4.4 5.3l-4.4 5.3l-4.4 -5.3zM411.36 1209.02l4.4 5.3l-4.4 5.3l-4.4 -5.3zM411.5 1208.86l4.4 5.3l-4.4 5.3l-4.4 -5.3zM411.64 1208.71l4.4 5.3l-4.4 5.3l-4.4 -5.3zM411.78 1208.55l4.4 5.3l-4.4 5.3l-4.4 -5.3zM411.92 1208.39l4.4 5.3l-4.4 5.3l-4.4 -5.3zM412.05 1208.23l4.4 5.3l-4.4 5.3l-4.4 -5.3zM412.19 1208.07l4.4 5.3l-4.4 5.3l-4.4 -5.3zM412.33 1207.92l4.4 5.3l-4.4 5.3l-4.4 -5.3zM412.46 1207.76l4.4 5.3l-4.4 5.3l-4.4 -5.3zM412.6 1207.6l4.4 5.3l-4.4 5.3l-4.4 -5.3zM412.74 1207.44l4.4 5.3l-4.4 5.3l-4.4 -5.3zM412.88 1207.28l4.4 5.3l-4.4 5.3l-4.4 -5.3zM413.01 1207.13l4.4 5.3l-4.4 5.3l-4.4 -5.3zM413.15 1206.97l4.4 5.3l-4.4 5.3l-4.4 -5.3zM413.29 1206.81l4.4 5.3l-4.4 5.3l-4.4 -5.3zM413.42 1206.65l4.4 5.3l-4.4 5.3l-4.4 -5.3zM413.56 1206.5l4.4 5.3l-4.4 5.3l-4.4 -5.3zM413.7 1206.34l4.4 5.3l-4.4 5.3l-4.4 -5.3zM413.84 1206.18l4.4 5.3l-4.4 5.3l-4.4 -5.3zM413.97 1206.03l4.4 5.3l-4.4 5.3l-4.4 -5.3zM414.11 1205.87l4.4 5.3l-4.4 5.3l-4.4 -5.3zM414.25 1205.71l4.4 5.3l-4.4 5.3l-4.4 -5.3zM414.38 1205.55l4.4 5.3l-4.4 5.3l-4.4 -5.3zM414.52 1205.4l4.4 5.3l-4.4 5.3l-4.4 -5.3zM414.66 1205.24l4.4 5.3l-4.4 5.3l-4.4 -5.3zM414.79 1205.08l4.4 5.3l-4.4 5.3l-4.4 -5.3zM414.93 1204.92l4.4 5.3l-4.4 5.3l-4.4 -5.3zM415.07 1204.77l4.4 5.3l-4.4 5.3l-4.4 -5.3zM415.2 1204.61l4.4 5.3l-4.4 5.3l-4.4 -5.3zM415.34 1204.46l4.4 5.3l-4.4 5.3l-4.4 -5.3zM415.48 1204.32l4.4 5.3l-4.4 5.3l-4.4 -5.3zM415.61 1204.18l4.4 5.3l-4.4 5.3l-4.4 -5.3zM415.75 1204.04l4.4 5.3l-4.4 5.3l-4.4 -5.3zM415.89 1203.9l4.4 5.3l-4.4 5.3l-4.4 -5.3zM416.02 1203.76l4.4 5.3l-4.4 5.3l-4.4 -5.3zM416.16 1203.62l4.4 5.3l-4.4 5.3l-4.4 -5.3zM416.3 1203.48l4.4 5.3l-4.4 5.3l-4.4 -5.3zM416.43 1203.34l4.4 5.3l-4.4 5.3l-4.4 -5.3zM416.57 1203.2l4.4 5.3l-4.4 5.3l-4.4 -5.3zM416.71 1203.07l4.4 5.3l-4.4 5.3l-4.4 -5.3zM416.84 1202.93l4.4 5.3l-4.4 5.3l-4.4 -5.3zM416.98 1202.79l4.4 5.3l-4.4 5.3l-4.4 -5.3zM417.11 1202.65l4.4 5.3l-4.4 5.3l-4.4 -5.3zM417.25 1202.51l4.4 5.3l-4.4 5.3l-4.4 -5.3zM417.39 1202.37l4.4 5.3l-4.4 5.3l-4.4 -5.3zM417.52 1202.23l4.4 5.3l-4.4 5.3l-4.4 -5.3zM417.66 1202.09l4.4 5.3l-4.4 5.3l-4.4 -5.3zM417.8 1201.95l4.4 5.3l-4.4 5.3l-4.4 -5.3zM417.93 1201.81l4.4 5.3l-4.4 5.3l-4.4 -5.3zM418.07 1201.67l4.4 5.3l-4.4 5.3l-4.4 -5.3zM418.21 1201.53l4.4 5.3l-4.4 5.3l-4.4 -5.3zM418.34 1201.39l4.4 5.3l-4.4 5.3l-4.4 -5.3zM418.48 1201.26l4.4 5.3l-4.4 5.3l-4.4 -5.3zM418.61 1201.12l4.4 5.3l-4.4 5.3l-4.4 -5.3zM418.75 1200.98l4.4 5.3l-4.4 5.3l-4.4 -5.3zM418.89 1200.84l4.4 5.3l-4.4 5.3l-4.4 -5.3zM419.02 1200.7l4.4 5.3l-4.4 5.3l-4.4 -5.3zM419.16 1200.56l4.4 5.3l-4.4 5.3l-4.4 -5.3zM419.3 1200.42l4.4 5.3l-4.4 5.3l-4.4 -5.3zM419.43 1200.28l4.4 5.3l-4.4 5.3l-4.4 -5.3zM419.57 1200.14l4.4 5.3l-4.4 5.3l-4.4 -5.3zM419.7 1200l4.4 5.3l-4.4 5.3l-4.4 -5.3zM419.84 1199.86l4.4 5.3l-4.4 5.3l-4.4 -5.3zM419.98 1199.73l4.4 5.3l-4.4 5.3l-4.4 -5.3zM420.11 1199.59l4.4 5.3l-4.4 5.3l-4.4 -5.3zM420.25 1199.46l4.4 5.3l-4.4 5.3l-4.4 -5.3zM420.39 1199.34l4.4 5.3l-4.4 5.3l-4.4 -5.3zM420.52 1199.21l4.4 5.3l-4.4 5.3l-4.4 -5.3zM420.66 1199.09l4.4 5.3l-4.4 5.3l-4.4 -5.3zM420.79 1198.96l4.4 5.3l-4.4 5.3l-4.4 -5.3zM420.93 1198.83l4.4 5.3l-4.4 5.3l-4.4 -5.3zM421.07 1198.71l4.4 5.3l-4.4 5.3l-4.4 -5.3zM421.2 1198.58l4.4 5.3l-4.4 5.3l-4.4 -5.3zM421.34 1198.46l4.4 5.3l-4.4 5.3l-4.4 -5.3zM421.48 1198.33l4.4 5.3l-4.4 5.3l-4.4 -5.3zM421.61 1198.21l4.4 5.3l-4.4 5.3l-4.4 -5.3zM421.75 1198.08l4.4 5.3l-4.4 5.3l-4.4 -5.3zM421.89 1197.95l4.4 5.3l-4.4 5.3l-4.4 -5.3zM422.02 1197.83l4.4 5.3l-4.4 5.3l-4.4 -5.3zM422.16 1197.7l4.4 5.3l-4.4 5.3l-4.4 -5.3zM422.29 1197.58l4.4 5.3l-4.4 5.3l-4.4 -5.3zM422.43 1197.45l4.4 5.3l-4.4 5.3l-4.4 -5.3zM422.57 1197.33l4.4 5.3l-4.4 5.3l-4.4 -5.3zM422.7 1197.2l4.4 5.3l-4.4 5.3l-4.4 -5.3zM422.84 1197.07l4.4 5.3l-4.4 5.3l-4.4 -5.3zM422.98 1196.95l4.4 5.3l-4.4 5.3l-4.4 -5.3zM423.11 1196.82l4.4 5.3l-4.4 5.3l-4.4 -5.3zM423.25 1196.7l4.4 5.3l-4.4 5.3l-4.4 -5.3zM423.39 1196.57l4.4 5.3l-4.4 5.3l-4.4 -5.3zM423.52 1196.45l4.4 5.3l-4.4 5.3l-4.4 -5.3zM423.66 1196.32l4.4 5.3l-4.4 5.3l-4.4 -5.3zM423.8 1196.19l4.4 5.3l-4.4 5.3l-4.4 -5.3zM423.93 1196.07l4.4 5.3l-4.4 5.3l-4.4 -5.3zM424.07 1195.94l4.4 5.3l-4.4 5.3l-4.4 -5.3zM424.21 1195.82l4.4 5.3l-4.4 5.3l-4.4 -5.3zM424.34 1195.69l4.4 5.3l-4.4 5.3l-4.4 -5.3zM424.48 1195.56l4.4 5.3l-4.4 5.3l-4.4 -5.3zM424.62 1195.44l4.4 5.3l-4.4 5.3l-4.4 -5.3zM424.75 1195.31l4.4 5.3l-4.4 5.3l-4.4 -5.3zM424.89 1195.19l4.4 5.3l-4.4 5.3l-4.4 -5.3zM425.03 1195.06l4.4 5.3l-4.4 5.3l-4.4 -5.3zM425.16 1194.93l4.4 5.3l-4.4 5.3l-4.4 -5.3zM425.3 1194.81l4.4 5.3l-4.4 5.3l-4.4 -5.3zM425.44 1194.69l4.4 5.3l-4.4 5.3l-4.4 -5.3zM425.58 1194.56l4.4 5.3l-4.4 5.3l-4.4 -5.3zM425.71 1194.44l4.4 5.3l-4.4 5.3l-4.4 -5.3zM425.85 1194.31l4.4 5.3l-4.4 5.3l-4.4 -5.3zM425.99 1194.19l4.4 5.3l-4.4 5.3l-4.4 -5.3zM426.12 1194.07l4.4 5.3l-4.4 5.3l-4.4 -5.3zM426.26 1193.94l4.4 5.3l-4.4 5.3l-4.4 -5.3zM426.4 1193.82l4.4 5.3l-4.4 5.3l-4.4 -5.3zM426.54 1193.7l4.4 5.3l-4.4 5.3l-4.4 -5.3zM426.67 1193.57l4.4 5.3l-4.4 5.3l-4.4 -5.3zM426.81 1193.45l4.4 5.3l-4.4 5.3l-4.4 -5.3zM426.95 1193.32l4.4 5.3l-4.4 5.3l-4.4 -5.3zM427.08 1193.2l4.4 5.3l-4.4 5.3l-4.4 -5.3zM427.22 1193.08l4.4 5.3l-4.4 5.3l-4.4 -5.3zM427.36 1192.95l4.4 5.3l-4.4 5.3l-4.4 -5.3zM427.5 1192.83l4.4 5.3l-4.4 5.3l-4.4 -5.3zM427.64 1192.7l4.4 5.3l-4.4 5.3l-4.4 -5.3zM427.77 1192.58l4.4 5.3l-4.4 5.3l-4.4 -5.3zM427.91 1192.46l4.4 5.3l-4.4 5.3l-4.4 -5.3zM428.05 1192.33l4.4 5.3l-4.4 5.3l-4.4 -5.3zM428.19 1192.21l4.4 5.3l-4.4 5.3l-4.4 -5.3zM428.32 1192.08l4.4 5.3l-4.4 5.3l-4.4 -5.3zM428.46 1191.96l4.4 5.3l-4.4 5.3l-4.4 -5.3zM428.6 1191.83l4.4 5.3l-4.4 5.3l-4.4 -5.3zM428.74 1191.71l4.4 5.3l-4.4 5.3l-4.4 -5.3zM428.88 1191.58l4.4 5.3l-4.4 5.3l-4.4 -5.3zM429.01 1191.46l4.4 5.3l-4.4 5.3l-4.4 -5.3zM429.15 1191.34l4.4 5.3l-4.4 5.3l-4.4 -5.3zM429.29 1191.21l4.4 5.3l-4.4 5.3l-4.4 -5.3zM429.43 1191.09l4.4 5.3l-4.4 5.3l-4.4 -5.3zM429.57 1190.96l4.4 5.3l-4.4 5.3l-4.4 -5.3zM429.71 1190.84l4.4 5.3l-4.4 5.3l-4.4 -5.3zM429.84 1190.71l4.4 5.3l-4.4 5.3l-4.4 -5.3zM429.98 1190.59l4.4 5.3l-4.4 5.3l-4.4 -5.3zM430.12 1190.46l4.4 5.3l-4.4 5.3l-4.4 -5.3zM430.26 1190.34l4.4 5.3l-4.4 5.3l-4.4 -5.3zM430.4 1190.21l4.4 5.3l-4.4 5.3l-4.4 -5.3zM430.54 1190.09l4.4 5.3l-4.4 5.3l-4.4 -5.3zM430.68 1189.97l4.4 5.3l-4.4 5.3l-4.4 -5.3zM430.82 1189.85l4.4 5.3l-4.4 5.3l-4.4 -5.3zM430.95 1189.72l4.4 5.3l-4.4 5.3l-4.4 -5.3zM431.09 1189.6l4.4 5.3l-4.4 5.3l-4.4 -5.3zM431.23 1189.48l4.4 5.3l-4.4 5.3l-4.4 -5.3zM431.37 1189.35l4.4 5.3l-4.4 5.3l-4.4 -5.3zM431.51 1189.23l4.4 5.3l-4.4 5.3l-4.4 -5.3zM431.65 1189.11l4.4 5.3l-4.4 5.3l-4.4 -5.3zM431.79 1188.99l4.4 5.3l-4.4 5.3l-4.4 -5.3zM431.93 1188.86l4.4 5.3l-4.4 5.3l-4.4 -5.3zM432.07 1188.74l4.4 5.3l-4.4 5.3l-4.4 -5.3zM432.21 1188.62l4.4 5.3l-4.4 5.3l-4.4 -5.3zM432.35 1188.49l4.4 5.3l-4.4 5.3l-4.4 -5.3zM432.49 1188.37l4.4 5.3l-4.4 5.3l-4.4 -5.3zM432.63 1188.25l4.4 5.3l-4.4 5.3l-4.4 -5.3zM432.77 1188.12l4.4 5.3l-4.4 5.3l-4.4 -5.3zM432.91 1188l4.4 5.3l-4.4 5.3l-4.4 -5.3zM433.05 1187.88l4.4 5.3l-4.4 5.3l-4.4 -5.3zM433.19 1187.75l4.4 5.3l-4.4 5.3l-4.4 -5.3zM433.33 1187.63l4.4 5.3l-4.4 5.3l-4.4 -5.3zM433.47 1187.5l4.4 5.3l-4.4 5.3l-4.4 -5.3zM433.61 1187.38l4.4 5.3l-4.4 5.3l-4.4 -5.3zM433.75 1187.26l4.4 5.3l-4.4 5.3l-4.4 -5.3zM433.89 1187.13l4.4 5.3l-4.4 5.3l-4.4 -5.3zM434.03 1187.01l4.4 5.3l-4.4 5.3l-4.4 -5.3zM434.17 1186.88l4.4 5.3l-4.4 5.3l-4.4 -5.3zM434.31 1186.76l4.4 5.3l-4.4 5.3l-4.4 -5.3zM434.45 1186.63l4.4 5.3l-4.4 5.3l-4.4 -5.3zM434.6 1186.51l4.4 5.3l-4.4 5.3l-4.4 -5.3zM434.74 1186.39l4.4 5.3l-4.4 5.3l-4.4 -5.3zM434.88 1186.26l4.4 5.3l-4.4 5.3l-4.4 -5.3zM435.02 1186.14l4.4 5.3l-4.4 5.3l-4.4 -5.3zM435.16 1186.01l4.4 5.3l-4.4 5.3l-4.4 -5.3zM435.3 1185.89l4.4 5.3l-4.4 5.3l-4.4 -5.3zM435.44 1185.76l4.4 5.3l-4.4 5.3l-4.4 -5.3zM435.59 1185.65l4.4 5.3l-4.4 5.3l-4.4 -5.3zM435.73 1185.53l4.4 5.3l-4.4 5.3l-4.4 -5.3zM435.87 1185.41l4.4 5.3l-4.4 5.3l-4.4 -5.3zM436.01 1185.3l4.4 5.3l-4.4 5.3l-4.4 -5.3zM436.15 1185.18l4.4 5.3l-4.4 5.3l-4.4 -5.3zM436.3 1185.06l4.4 5.3l-4.4 5.3l-4.4 -5.3zM436.44 1184.95l4.4 5.3l-4.4 5.3l-4.4 -5.3zM436.58 1184.83l4.4 5.3l-4.4 5.3l-4.4 -5.3zM436.72 1184.71l4.4 5.3l-4.4 5.3l-4.4 -5.3zM436.87 1184.59l4.4 5.3l-4.4 5.3l-4.4 -5.3zM437.01 1184.48l4.4 5.3l-4.4 5.3l-4.4 -5.3zM437.15 1184.36l4.4 5.3l-4.4 5.3l-4.4 -5.3zM437.29 1184.24l4.4 5.3l-4.4 5.3l-4.4 -5.3zM437.44 1184.12l4.4 5.3l-4.4 5.3l-4.4 -5.3zM437.58 1184l4.4 5.3l-4.4 5.3l-4.4 -5.3zM437.72 1183.89l4.4 5.3l-4.4 5.3l-4.4 -5.3zM437.87 1183.77l4.4 5.3l-4.4 5.3l-4.4 -5.3zM438.01 1183.65l4.4 5.3l-4.4 5.3l-4.4 -5.3zM438.15 1183.53l4.4 5.3l-4.4 5.3l-4.4 -5.3zM438.3 1183.41l4.4 5.3l-4.4 5.3l-4.4 -5.3zM438.44 1183.29l4.4 5.3l-4.4 5.3l-4.4 -5.3zM438.59 1183.18l4.4 5.3l-4.4 5.3l-4.4 -5.3zM438.73 1183.06l4.4 5.3l-4.4 5.3l-4.4 -5.3zM438.87 1182.94l4.4 5.3l-4.4 5.3l-4.4 -5.3zM439.02 1182.82l4.4 5.3l-4.4 5.3l-4.4 -5.3zM439.16 1182.7l4.4 5.3l-4.4 5.3l-4.4 -5.3zM439.31 1182.58l4.4 5.3l-4.4 5.3l-4.4 -5.3zM439.45 1182.46l4.4 5.3l-4.4 5.3l-4.4 -5.3zM439.6 1182.34l4.4 5.3l-4.4 5.3l-4.4 -5.3zM439.74 1182.22l4.4 5.3l-4.4 5.3l-4.4 -5.3zM439.89 1182.1l4.4 5.3l-4.4 5.3l-4.4 -5.3zM440.03 1181.98l4.4 5.3l-4.4 5.3l-4.4 -5.3zM440.18 1181.86l4.4 5.3l-4.4 5.3l-4.4 -5.3zM440.32 1181.74l4.4 5.3l-4.4 5.3l-4.4 -5.3zM440.47 1181.62l4.4 5.3l-4.4 5.3l-4.4 -5.3zM440.62 1181.5l4.4 5.3l-4.4 5.3l-4.4 -5.3zM440.76 1181.38l4.4 5.3l-4.4 5.3l-4.4 -5.3zM440.91 1181.26l4.4 5.3l-4.4 5.3l-4.4 -5.3zM441.05 1181.14l4.4 5.3l-4.4 5.3l-4.4 -5.3zM441.2 1181.02l4.4 5.3l-4.4 5.3l-4.4 -5.3zM441.35 1180.9l4.4 5.3l-4.4 5.3l-4.4 -5.3zM441.49 1180.78l4.4 5.3l-4.4 5.3l-4.4 -5.3zM441.64 1180.66l4.4 5.3l-4.4 5.3l-4.4 -5.3zM441.79 1180.54l4.4 5.3l-4.4 5.3l-4.4 -5.3zM441.94 1180.42l4.4 5.3l-4.4 5.3l-4.4 -5.3zM442.08 1180.3l4.4 5.3l-4.4 5.3l-4.4 -5.3zM442.23 1180.18l4.4 5.3l-4.4 5.3l-4.4 -5.3zM442.38 1180.05l4.4 5.3l-4.4 5.3l-4.4 -5.3zM442.53 1179.93l4.4 5.3l-4.4 5.3l-4.4 -5.3zM442.67 1179.81l4.4 5.3l-4.4 5.3l-4.4 -5.3zM442.82 1179.69l4.4 5.3l-4.4 5.3l-4.4 -5.3zM442.97 1179.57l4.4 5.3l-4.4 5.3l-4.4 -5.3zM443.12 1179.44l4.4 5.3l-4.4 5.3l-4.4 -5.3zM443.27 1179.32l4.4 5.3l-4.4 5.3l-4.4 -5.3zM443.41 1179.2l4.4 5.3l-4.4 5.3l-4.4 -5.3zM443.56 1179.08l4.4 5.3l-4.4 5.3l-4.4 -5.3zM443.71 1178.95l4.4 5.3l-4.4 5.3l-4.4 -5.3zM443.86 1178.83l4.4 5.3l-4.4 5.3l-4.4 -5.3zM444.01 1178.71l4.4 5.3l-4.4 5.3l-4.4 -5.3zM444.16 1178.59l4.4 5.3l-4.4 5.3l-4.4 -5.3zM444.31 1178.46l4.4 5.3l-4.4 5.3l-4.4 -5.3zM444.46 1178.34l4.4 5.3l-4.4 5.3l-4.4 -5.3zM444.61 1178.22l4.4 5.3l-4.4 5.3l-4.4 -5.3zM444.76 1178.09l4.4 5.3l-4.4 5.3l-4.4 -5.3zM444.91 1177.97l4.4 5.3l-4.4 5.3l-4.4 -5.3zM445.06 1177.84l4.4 5.3l-4.4 5.3l-4.4 -5.3zM445.21 1177.72l4.4 5.3l-4.4 5.3l-4.4 -5.3zM445.36 1177.6l4.4 5.3l-4.4 5.3l-4.4 -5.3zM445.51 1177.47l4.4 5.3l-4.4 5.3l-4.4 -5.3zM445.67 1177.36l4.4 5.3l-4.4 5.3l-4.4 -5.3zM445.82 1177.25l4.4 5.3l-4.4 5.3l-4.4 -5.3zM445.97 1177.15l4.4 5.3l-4.4 5.3l-4.4 -5.3zM446.12 1177.04l4.4 5.3l-4.4 5.3l-4.4 -5.3zM446.27 1176.94l4.4 5.3l-4.4 5.3l-4.4 -5.3zM446.42 1176.83l4.4 5.3l-4.4 5.3l-4.4 -5.3zM446.58 1176.73l4.4 5.3l-4.4 5.3l-4.4 -5.3zM446.73 1176.62l4.4 5.3l-4.4 5.3l-4.4 -5.3zM446.88 1176.52l4.4 5.3l-4.4 5.3l-4.4 -5.3zM447.04 1176.42l4.4 5.3l-4.4 5.3l-4.4 -5.3zM447.19 1176.31l4.4 5.3l-4.4 5.3l-4.4 -5.3zM447.34 1176.2l4.4 5.3l-4.4 5.3l-4.4 -5.3zM447.5 1176.1l4.4 5.3l-4.4 5.3l-4.4 -5.3zM447.65 1175.99l4.4 5.3l-4.4 5.3l-4.4 -5.3zM447.8 1175.89l4.4 5.3l-4.4 5.3l-4.4 -5.3zM447.96 1175.78l4.4 5.3l-4.4 5.3l-4.4 -5.3zM448.11 1175.68l4.4 5.3l-4.4 5.3l-4.4 -5.3zM448.27 1175.57l4.4 5.3l-4.4 5.3l-4.4 -5.3zM448.42 1175.46l4.4 5.3l-4.4 5.3l-4.4 -5.3zM448.58 1175.36l4.4 5.3l-4.4 5.3l-4.4 -5.3zM448.73 1175.25l4.4 5.3l-4.4 5.3l-4.4 -5.3zM448.89 1175.14l4.4 5.3l-4.4 5.3l-4.4 -5.3zM449.04 1175.04l4.4 5.3l-4.4 5.3l-4.4 -5.3zM449.2 1174.93l4.4 5.3l-4.4 5.3l-4.4 -5.3zM449.35 1174.82l4.4 5.3l-4.4 5.3l-4.4 -5.3zM449.51 1174.72l4.4 5.3l-4.4 5.3l-4.4 -5.3zM449.67 1174.61l4.4 5.3l-4.4 5.3l-4.4 -5.3zM449.82 1174.5l4.4 5.3l-4.4 5.3l-4.4 -5.3zM449.98 1174.39l4.4 5.3l-4.4 5.3l-4.4 -5.3zM450.14 1174.29l4.4 5.3l-4.4 5.3l-4.4 -5.3zM450.3 1174.18l4.4 5.3l-4.4 5.3l-4.4 -5.3zM450.45 1174.07l4.4 5.3l-4.4 5.3l-4.4 -5.3zM450.61 1173.96l4.4 5.3l-4.4 5.3l-4.4 -5.3zM450.77 1173.84l4.4 5.3l-4.4 5.3l-4.4 -5.3zM450.93 1173.7l4.4 5.3l-4.4 5.3l-4.4 -5.3zM451.09 1173.57l4.4 5.3l-4.4 5.3l-4.4 -5.3zM451.25 1173.43l4.4 5.3l-4.4 5.3l-4.4 -5.3zM451.41 1173.29l4.4 5.3l-4.4 5.3l-4.4 -5.3zM451.56 1173.16l4.4 5.3l-4.4 5.3l-4.4 -5.3zM451.72 1173.02l4.4 5.3l-4.4 5.3l-4.4 -5.3zM451.88 1172.88l4.4 5.3l-4.4 5.3l-4.4 -5.3zM452.04 1172.74l4.4 5.3l-4.4 5.3l-4.4 -5.3zM452.2 1172.61l4.4 5.3l-4.4 5.3l-4.4 -5.3zM452.37 1172.47l4.4 5.3l-4.4 5.3l-4.4 -5.3zM452.53 1172.33l4.4 5.3l-4.4 5.3l-4.4 -5.3zM452.69 1172.19l4.4 5.3l-4.4 5.3l-4.4 -5.3zM452.85 1172.05l4.4 5.3l-4.4 5.3l-4.4 -5.3zM453.01 1171.91l4.4 5.3l-4.4 5.3l-4.4 -5.3zM453.17 1171.77l4.4 5.3l-4.4 5.3l-4.4 -5.3zM453.34 1171.63l4.4 5.3l-4.4 5.3l-4.4 -5.3zM453.5 1171.49l4.4 5.3l-4.4 5.3l-4.4 -5.3zM453.66 1171.35l4.4 5.3l-4.4 5.3l-4.4 -5.3zM453.82 1171.21l4.4 5.3l-4.4 5.3l-4.4 -5.3zM453.99 1171.07l4.4 5.3l-4.4 5.3l-4.4 -5.3zM454.15 1170.93l4.4 5.3l-4.4 5.3l-4.4 -5.3zM454.32 1170.79l4.4 5.3l-4.4 5.3l-4.4 -5.3zM454.48 1170.65l4.4 5.3l-4.4 5.3l-4.4 -5.3zM454.64 1170.51l4.4 5.3l-4.4 5.3l-4.4 -5.3zM454.81 1170.36l4.4 5.3l-4.4 5.3l-4.4 -5.3zM454.97 1170.22l4.4 5.3l-4.4 5.3l-4.4 -5.3zM455.14 1170.09l4.4 5.3l-4.4 5.3l-4.4 -5.3zM455.31 1169.95l4.4 5.3l-4.4 5.3l-4.4 -5.3zM455.47 1169.82l4.4 5.3l-4.4 5.3l-4.4 -5.3zM455.64 1169.69l4.4 5.3l-4.4 5.3l-4.4 -5.3zM455.8 1169.55l4.4 5.3l-4.4 5.3l-4.4 -5.3zM455.97 1169.42l4.4 5.3l-4.4 5.3l-4.4 -5.3zM456.14 1169.28l4.4 5.3l-4.4 5.3l-4.4 -5.3zM456.31 1169.15l4.4 5.3l-4.4 5.3l-4.4 -5.3zM456.47 1169.02l4.4 5.3l-4.4 5.3l-4.4 -5.3zM456.64 1168.88l4.4 5.3l-4.4 5.3l-4.4 -5.3zM456.81 1168.74l4.4 5.3l-4.4 5.3l-4.4 -5.3zM456.98 1168.61l4.4 5.3l-4.4 5.3l-4.4 -5.3zM457.15 1168.47l4.4 5.3l-4.4 5.3l-4.4 -5.3zM457.32 1168.34l4.4 5.3l-4.4 5.3l-4.4 -5.3zM457.49 1168.2l4.4 5.3l-4.4 5.3l-4.4 -5.3zM457.66 1168.06l4.4 5.3l-4.4 5.3l-4.4 -5.3zM457.83 1167.93l4.4 5.3l-4.4 5.3l-4.4 -5.3zM458 1167.79l4.4 5.3l-4.4 5.3l-4.4 -5.3zM458.17 1167.65l4.4 5.3l-4.4 5.3l-4.4 -5.3zM458.34 1167.51l4.4 5.3l-4.4 5.3l-4.4 -5.3zM458.51 1167.37l4.4 5.3l-4.4 5.3l-4.4 -5.3zM458.69 1167.24l4.4 5.3l-4.4 5.3l-4.4 -5.3zM458.86 1167.1l4.4 5.3l-4.4 5.3l-4.4 -5.3zM459.03 1166.96l4.4 5.3l-4.4 5.3l-4.4 -5.3zM459.21 1166.82l4.4 5.3l-4.4 5.3l-4.4 -5.3zM459.38 1166.68l4.4 5.3l-4.4 5.3l-4.4 -5.3zM459.55 1166.54l4.4 5.3l-4.4 5.3l-4.4 -5.3zM459.73 1166.4l4.4 5.3l-4.4 5.3l-4.4 -5.3zM459.9 1166.26l4.4 5.3l-4.4 5.3l-4.4 -5.3zM460.08 1166.12l4.4 5.3l-4.4 5.3l-4.4 -5.3zM460.25 1166l4.4 5.3l-4.4 5.3l-4.4 -5.3zM460.43 1165.89l4.4 5.3l-4.4 5.3l-4.4 -5.3zM460.61 1165.77l4.4 5.3l-4.4 5.3l-4.4 -5.3zM460.78 1165.66l4.4 5.3l-4.4 5.3l-4.4 -5.3zM460.96 1165.54l4.4 5.3l-4.4 5.3l-4.4 -5.3zM461.14 1165.43l4.4 5.3l-4.4 5.3l-4.4 -5.3zM461.32 1165.31l4.4 5.3l-4.4 5.3l-4.4 -5.3zM461.49 1165.2l4.4 5.3l-4.4 5.3l-4.4 -5.3zM461.67 1165.08l4.4 5.3l-4.4 5.3l-4.4 -5.3zM461.85 1164.97l4.4 5.3l-4.4 5.3l-4.4 -5.3zM462.03 1164.85l4.4 5.3l-4.4 5.3l-4.4 -5.3zM462.21 1164.73l4.4 5.3l-4.4 5.3l-4.4 -5.3zM462.39 1164.62l4.4 5.3l-4.4 5.3l-4.4 -5.3zM462.57 1164.5l4.4 5.3l-4.4 5.3l-4.4 -5.3zM462.76 1164.38l4.4 5.3l-4.4 5.3l-4.4 -5.3zM462.94 1164.26l4.4 5.3l-4.4 5.3l-4.4 -5.3zM463.12 1164.15l4.4 5.3l-4.4 5.3l-4.4 -5.3zM463.3 1164.03l4.4 5.3l-4.4 5.3l-4.4 -5.3zM463.49 1163.91l4.4 5.3l-4.4 5.3l-4.4 -5.3zM463.67 1163.79l4.4 5.3l-4.4 5.3l-4.4 -5.3zM463.85 1163.67l4.4 5.3l-4.4 5.3l-4.4 -5.3zM464.04 1163.55l4.4 5.3l-4.4 5.3l-4.4 -5.3zM464.22 1163.43l4.4 5.3l-4.4 5.3l-4.4 -5.3zM464.41 1163.31l4.4 5.3l-4.4 5.3l-4.4 -5.3zM464.59 1163.19l4.4 5.3l-4.4 5.3l-4.4 -5.3zM464.78 1163.07l4.4 5.3l-4.4 5.3l-4.4 -5.3zM464.97 1162.95l4.4 5.3l-4.4 5.3l-4.4 -5.3zM465.15 1162.83l4.4 5.3l-4.4 5.3l-4.4 -5.3zM465.34 1162.68l4.4 5.3l-4.4 5.3l-4.4 -5.3zM465.53 1162.52l4.4 5.3l-4.4 5.3l-4.4 -5.3zM465.72 1162.36l4.4 5.3l-4.4 5.3l-4.4 -5.3zM465.91 1162.2l4.4 5.3l-4.4 5.3l-4.4 -5.3zM466.1 1162.04l4.4 5.3l-4.4 5.3l-4.4 -5.3zM466.29 1161.88l4.4 5.3l-4.4 5.3l-4.4 -5.3zM466.48 1161.72l4.4 5.3l-4.4 5.3l-4.4 -5.3zM466.67 1161.56l4.4 5.3l-4.4 5.3l-4.4 -5.3zM466.86 1161.4l4.4 5.3l-4.4 5.3l-4.4 -5.3zM467.06 1161.24l4.4 5.3l-4.4 5.3l-4.4 -5.3zM467.25 1161.07l4.4 5.3l-4.4 5.3l-4.4 -5.3zM467.44 1160.91l4.4 5.3l-4.4 5.3l-4.4 -5.3zM467.64 1160.75l4.4 5.3l-4.4 5.3l-4.4 -5.3zM467.83 1160.58l4.4 5.3l-4.4 5.3l-4.4 -5.3zM468.03 1160.42l4.4 5.3l-4.4 5.3l-4.4 -5.3zM468.22 1160.25l4.4 5.3l-4.4 5.3l-4.4 -5.3zM468.42 1160.09l4.4 5.3l-4.4 5.3l-4.4 -5.3zM468.62 1159.92l4.4 5.3l-4.4 5.3l-4.4 -5.3zM468.81 1159.75l4.4 5.3l-4.4 5.3l-4.4 -5.3zM469.01 1159.59l4.4 5.3l-4.4 5.3l-4.4 -5.3zM469.21 1159.42l4.4 5.3l-4.4 5.3l-4.4 -5.3zM469.41 1159.25l4.4 5.3l-4.4 5.3l-4.4 -5.3zM469.61 1159.08l4.4 5.3l-4.4 5.3l-4.4 -5.3zM469.81 1158.91l4.4 5.3l-4.4 5.3l-4.4 -5.3zM470.01 1158.74l4.4 5.3l-4.4 5.3l-4.4 -5.3zM470.21 1158.57l4.4 5.3l-4.4 5.3l-4.4 -5.3zM470.42 1158.42l4.4 5.3l-4.4 5.3l-4.4 -5.3zM470.62 1158.29l4.4 5.3l-4.4 5.3l-4.4 -5.3zM470.82 1158.16l4.4 5.3l-4.4 5.3l-4.4 -5.3zM471.03 1158.03l4.4 5.3l-4.4 5.3l-4.4 -5.3zM471.23 1157.9l4.4 5.3l-4.4 5.3l-4.4 -5.3zM471.44 1157.76l4.4 5.3l-4.4 5.3l-4.4 -5.3zM471.65 1157.63l4.4 5.3l-4.4 5.3l-4.4 -5.3zM471.85 1157.5l4.4 5.3l-4.4 5.3l-4.4 -5.3zM472.06 1157.36l4.4 5.3l-4.4 5.3l-4.4 -5.3zM472.27 1157.23l4.4 5.3l-4.4 5.3l-4.4 -5.3zM472.48 1157.09l4.4 5.3l-4.4 5.3l-4.4 -5.3zM472.69 1156.95l4.4 5.3l-4.4 5.3l-4.4 -5.3zM472.9 1156.82l4.4 5.3l-4.4 5.3l-4.4 -5.3zM473.11 1156.68l4.4 5.3l-4.4 5.3l-4.4 -5.3zM473.32 1156.54l4.4 5.3l-4.4 5.3l-4.4 -5.3zM473.54 1156.41l4.4 5.3l-4.4 5.3l-4.4 -5.3zM473.75 1156.27l4.4 5.3l-4.4 5.3l-4.4 -5.3zM473.96 1156.13l4.4 5.3l-4.4 5.3l-4.4 -5.3zM474.18 1155.99l4.4 5.3l-4.4 5.3l-4.4 -5.3zM474.39 1155.85l4.4 5.3l-4.4 5.3l-4.4 -5.3zM474.61 1155.71l4.4 5.3l-4.4 5.3l-4.4 -5.3zM474.83 1155.57l4.4 5.3l-4.4 5.3l-4.4 -5.3zM475.05 1155.43l4.4 5.3l-4.4 5.3l-4.4 -5.3zM475.27 1155.29l4.4 5.3l-4.4 5.3l-4.4 -5.3zM475.49 1155.16l4.4 5.3l-4.4 5.3l-4.4 -5.3zM475.71 1155.05l4.4 5.3l-4.4 5.3l-4.4 -5.3zM475.93 1154.94l4.4 5.3l-4.4 5.3l-4.4 -5.3zM476.15 1154.83l4.4 5.3l-4.4 5.3l-4.4 -5.3zM476.38 1154.72l4.4 5.3l-4.4 5.3l-4.4 -5.3zM476.6 1154.61l4.4 5.3l-4.4 5.3l-4.4 -5.3zM476.82 1154.5l4.4 5.3l-4.4 5.3l-4.4 -5.3zM477.05 1154.39l4.4 5.3l-4.4 5.3l-4.4 -5.3zM477.28 1154.28l4.4 5.3l-4.4 5.3l-4.4 -5.3zM477.51 1154.17l4.4 5.3l-4.4 5.3l-4.4 -5.3zM477.73 1154.06l4.4 5.3l-4.4 5.3l-4.4 -5.3zM477.96 1153.94l4.4 5.3l-4.4 5.3l-4.4 -5.3zM478.2 1153.83l4.4 5.3l-4.4 5.3l-4.4 -5.3zM478.43 1153.72l4.4 5.3l-4.4 5.3l-4.4 -5.3zM478.66 1153.6l4.4 5.3l-4.4 5.3l-4.4 -5.3zM478.89 1153.49l4.4 5.3l-4.4 5.3l-4.4 -5.3zM479.13 1153.37l4.4 5.3l-4.4 5.3l-4.4 -5.3zM479.36 1153.26l4.4 5.3l-4.4 5.3l-4.4 -5.3zM479.6 1153.14l4.4 5.3l-4.4 5.3l-4.4 -5.3zM479.84 1153.02l4.4 5.3l-4.4 5.3l-4.4 -5.3zM480.08 1152.91l4.4 5.3l-4.4 5.3l-4.4 -5.3zM480.32 1152.79l4.4 5.3l-4.4 5.3l-4.4 -5.3zM480.56 1152.67l4.4 5.3l-4.4 5.3l-4.4 -5.3zM480.8 1152.54l4.4 5.3l-4.4 5.3l-4.4 -5.3zM481.04 1152.4l4.4 5.3l-4.4 5.3l-4.4 -5.3zM481.29 1152.27l4.4 5.3l-4.4 5.3l-4.4 -5.3zM481.53 1152.13l4.4 5.3l-4.4 5.3l-4.4 -5.3zM481.78 1152l4.4 5.3l-4.4 5.3l-4.4 -5.3zM482.03 1151.86l4.4 5.3l-4.4 5.3l-4.4 -5.3zM482.28 1151.73l4.4 5.3l-4.4 5.3l-4.4 -5.3zM482.53 1151.59l4.4 5.3l-4.4 5.3l-4.4 -5.3zM482.78 1151.45l4.4 5.3l-4.4 5.3l-4.4 -5.3zM483.03 1151.31l4.4 5.3l-4.4 5.3l-4.4 -5.3zM483.28 1151.17l4.4 5.3l-4.4 5.3l-4.4 -5.3zM483.54 1151.03l4.4 5.3l-4.4 5.3l-4.4 -5.3zM483.79 1150.89l4.4 5.3l-4.4 5.3l-4.4 -5.3zM484.05 1150.75l4.4 5.3l-4.4 5.3l-4.4 -5.3zM484.31 1150.61l4.4 5.3l-4.4 5.3l-4.4 -5.3zM484.57 1150.46l4.4 5.3l-4.4 5.3l-4.4 -5.3zM484.83 1150.32l4.4 5.3l-4.4 5.3l-4.4 -5.3zM485.1 1150.18l4.4 5.3l-4.4 5.3l-4.4 -5.3zM485.36 1150.03l4.4 5.3l-4.4 5.3l-4.4 -5.3zM485.63 1149.88l4.4 5.3l-4.4 5.3l-4.4 -5.3zM485.89 1149.72l4.4 5.3l-4.4 5.3l-4.4 -5.3zM486.16 1149.55l4.4 5.3l-4.4 5.3l-4.4 -5.3zM486.43 1149.38l4.4 5.3l-4.4 5.3l-4.4 -5.3zM486.7 1149.21l4.4 5.3l-4.4 5.3l-4.4 -5.3zM486.98 1149.04l4.4 5.3l-4.4 5.3l-4.4 -5.3zM487.25 1148.86l4.4 5.3l-4.4 5.3l-4.4 -5.3zM487.53 1148.69l4.4 5.3l-4.4 5.3l-4.4 -5.3zM487.81 1148.52l4.4 5.3l-4.4 5.3l-4.4 -5.3zM488.09 1148.34l4.4 5.3l-4.4 5.3l-4.4 -5.3zM488.37 1148.16l4.4 5.3l-4.4 5.3l-4.4 -5.3zM488.65 1147.99l4.4 5.3l-4.4 5.3l-4.4 -5.3zM488.94 1147.81l4.4 5.3l-4.4 5.3l-4.4 -5.3zM489.22 1147.63l4.4 5.3l-4.4 5.3l-4.4 -5.3zM489.51 1147.45l4.4 5.3l-4.4 5.3l-4.4 -5.3zM489.8 1147.26l4.4 5.3l-4.4 5.3l-4.4 -5.3zM490.09 1147.08l4.4 5.3l-4.4 5.3l-4.4 -5.3zM490.39 1146.9l4.4 5.3l-4.4 5.3l-4.4 -5.3zM490.68 1146.71l4.4 5.3l-4.4 5.3l-4.4 -5.3zM490.98 1146.54l4.4 5.3l-4.4 5.3l-4.4 -5.3zM491.28 1146.36l4.4 5.3l-4.4 5.3l-4.4 -5.3zM491.58 1146.19l4.4 5.3l-4.4 5.3l-4.4 -5.3zM491.88 1146.01l4.4 5.3l-4.4 5.3l-4.4 -5.3zM492.19 1145.83l4.4 5.3l-4.4 5.3l-4.4 -5.3zM492.5 1145.66l4.4 5.3l-4.4 5.3l-4.4 -5.3zM492.81 1145.48l4.4 5.3l-4.4 5.3l-4.4 -5.3zM493.12 1145.29l4.4 5.3l-4.4 5.3l-4.4 -5.3zM493.43 1145.11l4.4 5.3l-4.4 5.3l-4.4 -5.3zM493.75 1144.93l4.4 5.3l-4.4 5.3l-4.4 -5.3zM494.07 1144.74l4.4 5.3l-4.4 5.3l-4.4 -5.3zM494.39 1144.56l4.4 5.3l-4.4 5.3l-4.4 -5.3zM494.71 1144.37l4.4 5.3l-4.4 5.3l-4.4 -5.3zM495.04 1144.15l4.4 5.3l-4.4 5.3l-4.4 -5.3zM495.37 1143.71l4.4 5.3l-4.4 5.3l-4.4 -5.3zM495.7 1143.26l4.4 5.3l-4.4 5.3l-4.4 -5.3zM496.03 1142.81l4.4 5.3l-4.4 5.3l-4.4 -5.3zM496.37 1142.36l4.4 5.3l-4.4 5.3l-4.4 -5.3zM496.71 1141.9l4.4 5.3l-4.4 5.3l-4.4 -5.3zM497.05 1141.44l4.4 5.3l-4.4 5.3l-4.4 -5.3zM497.39 1140.98l4.4 5.3l-4.4 5.3l-4.4 -5.3zM497.74 1140.51l4.4 5.3l-4.4 5.3l-4.4 -5.3zM498.09 1140.04l4.4 5.3l-4.4 5.3l-4.4 -5.3zM498.44 1139.57l4.4 5.3l-4.4 5.3l-4.4 -5.3zM498.8 1139.09l4.4 5.3l-4.4 5.3l-4.4 -5.3zM499.16 1138.6l4.4 5.3l-4.4 5.3l-4.4 -5.3zM499.52 1138.12l4.4 5.3l-4.4 5.3l-4.4 -5.3zM499.88 1137.62l4.4 5.3l-4.4 5.3l-4.4 -5.3zM500.25 1137.15l4.4 5.3l-4.4 5.3l-4.4 -5.3zM500.63 1136.8l4.4 5.3l-4.4 5.3l-4.4 -5.3zM501 1136.45l4.4 5.3l-4.4 5.3l-4.4 -5.3zM501.38 1136.09l4.4 5.3l-4.4 5.3l-4.4 -5.3zM501.76 1135.73l4.4 5.3l-4.4 5.3l-4.4 -5.3zM502.15 1135.36l4.4 5.3l-4.4 5.3l-4.4 -5.3zM502.54 1135l4.4 5.3l-4.4 5.3l-4.4 -5.3zM502.94 1134.62l4.4 5.3l-4.4 5.3l-4.4 -5.3zM503.34 1134.25l4.4 5.3l-4.4 5.3l-4.4 -5.3zM503.74 1133.87l4.4 5.3l-4.4 5.3l-4.4 -5.3zM504.15 1133.49l4.4 5.3l-4.4 5.3l-4.4 -5.3zM504.56 1133.1l4.4 5.3l-4.4 5.3l-4.4 -5.3zM504.97 1132.71l4.4 5.3l-4.4 5.3l-4.4 -5.3zM505.39 1132.29l4.4 5.3l-4.4 5.3l-4.4 -5.3zM505.82 1131.78l4.4 5.3l-4.4 5.3l-4.4 -5.3zM506.25 1131.27l4.4 5.3l-4.4 5.3l-4.4 -5.3zM506.68 1130.75l4.4 5.3l-4.4 5.3l-4.4 -5.3zM507.12 1130.22l4.4 5.3l-4.4 5.3l-4.4 -5.3zM507.57 1129.69l4.4 5.3l-4.4 5.3l-4.4 -5.3zM508.02 1129.15l4.4 5.3l-4.4 5.3l-4.4 -5.3zM508.48 1128.6l4.4 5.3l-4.4 5.3l-4.4 -5.3zM508.94 1128.05l4.4 5.3l-4.4 5.3l-4.4 -5.3zM509.41 1127.49l4.4 5.3l-4.4 5.3l-4.4 -5.3zM509.88 1126.92l4.4 5.3l-4.4 5.3l-4.4 -5.3zM510.36 1126.35l4.4 5.3l-4.4 5.3l-4.4 -5.3zM510.85 1125.9l4.4 5.3l-4.4 5.3l-4.4 -5.3zM511.34 1125.45l4.4 5.3l-4.4 5.3l-4.4 -5.3zM511.84 1125l4.4 5.3l-4.4 5.3l-4.4 -5.3zM512.35 1124.54l4.4 5.3l-4.4 5.3l-4.4 -5.3zM512.87 1124.08l4.4 5.3l-4.4 5.3l-4.4 -5.3zM513.39 1123.6l4.4 5.3l-4.4 5.3l-4.4 -5.3zM513.92 1123.13l4.4 5.3l-4.4 5.3l-4.4 -5.3zM514.46 1122.64l4.4 5.3l-4.4 5.3l-4.4 -5.3zM515.01 1122.14l4.4 5.3l-4.4 5.3l-4.4 -5.3zM515.56 1121.66l4.4 5.3l-4.4 5.3l-4.4 -5.3zM516.13 1121.27l4.4 5.3l-4.4 5.3l-4.4 -5.3zM516.71 1120.87l4.4 5.3l-4.4 5.3l-4.4 -5.3zM517.29 1120.47l4.4 5.3l-4.4 5.3l-4.4 -5.3zM517.89 1120.06l4.4 5.3l-4.4 5.3l-4.4 -5.3zM518.5 1119.64l4.4 5.3l-4.4 5.3l-4.4 -5.3zM519.12 1119.22l4.4 5.3l-4.4 5.3l-4.4 -5.3zM519.75 1118.79l4.4 5.3l-4.4 5.3l-4.4 -5.3zM520.39 1118.34l4.4 5.3l-4.4 5.3l-4.4 -5.3zM521.05 1117.73l4.4 5.3l-4.4 5.3l-4.4 -5.3zM521.72 1117.02l4.4 5.3l-4.4 5.3l-4.4 -5.3zM522.4 1116.29l4.4 5.3l-4.4 5.3l-4.4 -5.3zM523.1 1115.55l4.4 5.3l-4.4 5.3l-4.4 -5.3zM523.82 1114.8l4.4 5.3l-4.4 5.3l-4.4 -5.3zM524.55 1114.02l4.4 5.3l-4.4 5.3l-4.4 -5.3zM525.3 1113.23l4.4 5.3l-4.4 5.3l-4.4 -5.3zM526.07 1112.56l4.4 5.3l-4.4 5.3l-4.4 -5.3zM526.86 1112.05l4.4 5.3l-4.4 5.3l-4.4 -5.3zM527.67 1111.52l4.4 5.3l-4.4 5.3l-4.4 -5.3zM528.5 1110.98l4.4 5.3l-4.4 5.3l-4.4 -5.3zM529.35 1110.42l4.4 5.3l-4.4 5.3l-4.4 -5.3zM530.23 1109.74l4.4 5.3l-4.4 5.3l-4.4 -5.3zM531.14 1108.73l4.4 5.3l-4.4 5.3l-4.4 -5.3zM532.08 1107.7l4.4 5.3l-4.4 5.3l-4.4 -5.3zM533.05 1106.57l4.4 5.3l-4.4 5.3l-4.4 -5.3zM534.05 1105.23l4.4 5.3l-4.4 5.3l-4.4 -5.3zM535.09 1103.84l4.4 5.3l-4.4 5.3l-4.4 -5.3zM536.17 1102.4l4.4 5.3l-4.4 5.3l-4.4 -5.3zM537.3 1100.91l4.4 5.3l-4.4 5.3l-4.4 -5.3zM538.47 1099.07l4.4 5.3l-4.4 5.3l-4.4 -5.3zM539.69 1097.15l4.4 5.3l-4.4 5.3l-4.4 -5.3zM540.97 1095.15l4.4 5.3l-4.4 5.3l-4.4 -5.3zM542.31 1093.21l4.4 5.3l-4.4 5.3l-4.4 -5.3zM543.73 1091.38l4.4 5.3l-4.4 5.3l-4.4 -5.3z" fill="#1f96ef" stroke="#1f96ef" stroke-width="1"/>
<path d="M230.89 1265.4l4.4 5.3l-4.4 5.3l-4.4 -5.3zM249.25 1263.4l4.4 5.3l-4.4 5.3l-4.4 -5.3zM258.38 1263.1l4.4 5.3l-4.4 5.3l-4.4 -5.3zM264.64 1262.7l4.4 5.3l-4.4 5.3l-4.4 -5.3zM269.45 1262.7l4.4 5.3l-4.4 5.3l-4.4 -5.3zM273.39 1261.9l4.4 5.3l-4.4 5.3l-4.4 -5.3zM276.74 1261.1l4.4 5.3l-4.4 5.3l-4.4 -5.3zM279.65 1258.91l4.4 5.3l-4.4 5.3l-4.4 -5.3zM282.25 1258.14l4.4 5.3l-4.4 5.3l-4.4 -5.3zM284.58 1257.41l4.4 5.3l-4.4 5.3l-4.4 -5.3zM286.71 1256.75l4.4 5.3l-4.4 5.3l-4.4 -5.3zM288.67 1256.2l4.4 5.3l-4.4 5.3l-4.4 -5.3zM290.49 1255.74l4.4 5.3l-4.4 5.3l-4.4 -5.3zM292.18 1255.31l4.4 5.3l-4.4 5.3l-4.4 -5.3zM293.77 1254.91l4.4 5.3l-4.4 5.3l-4.4 -5.3zM295.27 1254.69l4.4 5.3l-4.4 5.3l-4.4 -5.3zM296.69 1254.49l4.4 5.3l-4.4 5.3l-4.4 -5.3zM545.23 1089.45l4.4 5.3l-4.4 5.3l-4.4 -5.3zM546.82 1086.83l4.4 5.3l-4.4 5.3l-4.4 -5.3zM548.51 1083.06l4.4 5.3l-4.4 5.3l-4.4 -5.3zM550.33 1079.26l4.4 5.3l-4.4 5.3l-4.4 -5.3zM552.29 1075.78l4.4 5.3l-4.4 5.3l-4.4 -5.3zM554.42 1073.1l4.4 5.3l-4.4 5.3l-4.4 -5.3zM556.75 1059.8l4.4 5.3l-4.4 5.3l-4.4 -5.3zM559.35 1055l4.4 5.3l-4.4 5.3l-4.4 -5.3zM562.26 1045.5l4.4 5.3l-4.4 5.3l-4.4 -5.3zM565.61 1045.3l4.4 5.3l-4.4 5.3l-4.4 -5.3zM569.55 1044.3l4.4 5.3l-4.4 5.3l-4.4 -5.3zM574.36 1036.3l4.4 5.3l-4.4 5.3l-4.4 -5.3zM580.62 1027.1l4.4 5.3l-4.4 5.3l-4.4 -5.3zM589.75 1026.6l4.4 5.3l-4.4 5.3l-4.4 -5.3zM608.11 1022.2l4.4 5.3l-4.4 5.3l-4.4 -5.3z" fill="none" stroke="#1f96ef" stroke-width="1"/>
<text x="191.18" y="1403.7" font-size="19.4" font-weight="400" text-anchor="middle" fill="#262626">-4</text>
<text x="305.34" y="1403.7" font-size="19.4" font-weight="400" text-anchor="middle" fill="#262626">-2</text>
<text x="419.5" y="1403.7" font-size="19.4" font-weight="400" text-anchor="middle" fill="#262626">0</text>
<text x="533.66" y="1403.7" font-size="19.4" font-weight="400" text-anchor="middle" fill="#262626">2</text>
<text x="647.82" y="1403.7" font-size="19.4" font-weight="400" text-anchor="middle" fill="#262626">4</text>
<text x="183.78" y="1383.3" font-size="19.4" font-weight="400" text-anchor="end" fill="#262626">-0.04</text>
<text x="183.78" y="1333.1" font-size="19.4" font-weight="400" text-anchor="end" fill="#262626">-0.02</text>
<text x="183.78" y="1282.9" font-size="19.4" font-weight="400" text-anchor="end" fill="#262626">0</text>
<text x="183.78" y="1232.7" font-size="19.4" font-weight="400" text-anchor="end" fill="#262626">0.02</text>
<text x="183.78" y="1182.5" font-size="19.4" font-weight="400" text-anchor="end" fill="#262626">0.04</text>
<text x="183.78" y="1132.3" font-size="19.4" font-weight="400" text-anchor="end" fill="#262626">0.06</text>
<text x="183.78" y="1082.1" font-size="19.4" font-weight="400" text-anchor="end" fill="#262626">0.08</text>
<text x="183.78" y="1031.9" font-size="19.4" font-weight="400" text-anchor="end" fill="#262626">0.1</text>
<text x="419.2" y="1432.8" font-size="22" font-weight="400" text-anchor="middle" fill="#262626">Standard Normal Quantiles</text>
<text transform="translate(129.4 1201.3) rotate(-90)" x="0" y="0" font-size="21.6" text-anchor="middle" fill="#262626">Quantiles of Input Sample</text>
<text x="419" y="1015" font-size="21.9" font-weight="700" text-anchor="middle" fill="#000">QQ Plot of Sample Data versus Standard Normal</text>
<text x="388.2" y="1472.8" font-size="25" font-weight="700" text-anchor="middle" fill="#000">(b)</text>
</svg>
</body></html>
